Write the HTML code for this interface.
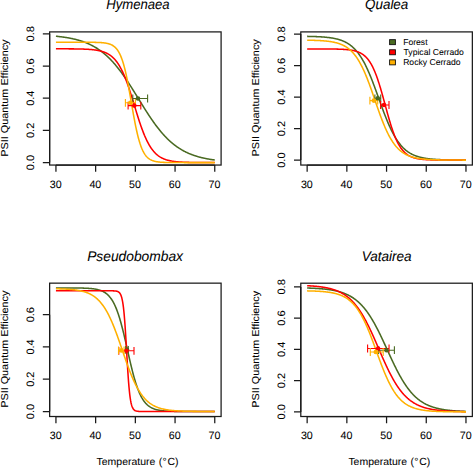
<!DOCTYPE html>
<html><head><meta charset="utf-8"><style>
html,body{margin:0;padding:0;background:#fff;}
body{width:475px;height:469px;overflow:hidden;}
svg{display:block;font-family:"Liberation Sans", sans-serif;fill:#000;}
text{font-family:"Liberation Sans", sans-serif;fill:#000;stroke:#000;stroke-width:0.06px;text-rendering:geometricPrecision;}
</style></head><body>
<svg width="475" height="469" viewBox="0 0 475 469">
<rect width="475" height="469" fill="#fff"/>
<g><polyline points="55.94,36.23 56.34,36.26 56.73,36.30 57.13,36.35 57.53,36.39 57.93,36.43 58.32,36.47 58.72,36.52 59.12,36.56 59.51,36.61 59.91,36.65 60.31,36.70 60.70,36.75 61.10,36.80 61.50,36.85 61.90,36.90 62.29,36.95 62.69,37.00 63.09,37.06 63.48,37.11 63.88,37.17 64.28,37.22 64.68,37.28 65.07,37.34 65.47,37.40 65.87,37.47 66.26,37.53 66.66,37.59 67.06,37.66 67.45,37.73 67.85,37.79 68.25,37.86 68.65,37.93 69.04,38.01 69.44,38.08 69.84,38.15 70.23,38.23 70.63,38.31 71.03,38.39 71.42,38.47 71.82,38.55 72.22,38.63 72.62,38.72 73.01,38.81 73.41,38.89 73.81,38.99 74.20,39.08 74.60,39.17 75.00,39.27 75.40,39.36 75.79,39.46 76.19,39.56 76.59,39.67 76.98,39.77 77.38,39.88 77.78,39.99 78.17,40.10 78.57,40.21 78.97,40.33 79.37,40.44 79.76,40.56 80.16,40.68 80.56,40.81 80.95,40.93 81.35,41.06 81.75,41.19 82.15,41.32 82.54,41.46 82.94,41.60 83.34,41.74 83.73,41.88 84.13,42.02 84.53,42.17 84.92,42.32 85.32,42.48 85.72,42.63 86.12,42.79 86.51,42.95 86.91,43.11 87.31,43.28 87.70,43.45 88.10,43.62 88.50,43.80 88.90,43.98 89.29,44.16 89.69,44.35 90.09,44.53 90.48,44.73 90.88,44.92 91.28,45.12 91.67,45.32 92.07,45.53 92.47,45.73 92.87,45.95 93.26,46.16 93.66,46.38 94.06,46.60 94.45,46.83 94.85,47.06 95.25,47.29 95.64,47.53 96.04,47.77 96.44,48.01 96.84,48.26 97.23,48.52 97.63,48.77 98.03,49.03 98.42,49.30 98.82,49.57 99.22,49.84 99.62,50.12 100.01,50.40 100.41,50.68 100.81,50.97 101.20,51.27 101.60,51.57 102.00,51.87 102.39,52.18 102.79,52.49 103.19,52.81 103.59,53.13 103.98,53.45 104.38,53.79 104.78,54.12 105.17,54.46 105.57,54.81 105.97,55.15 106.37,55.51 106.76,55.87 107.16,56.23 107.56,56.60 107.95,56.97 108.35,57.35 108.75,57.74 109.14,58.12 109.54,58.52 109.94,58.92 110.34,59.32 110.73,59.73 111.13,60.14 111.53,60.56 111.92,60.98 112.32,61.41 112.72,61.84 113.12,62.28 113.51,62.72 113.91,63.17 114.31,63.62 114.70,64.08 115.10,64.55 115.50,65.01 115.89,65.49 116.29,65.96 116.69,66.45 117.09,66.94 117.48,67.43 117.88,67.92 118.28,68.43 118.67,68.93 119.07,69.45 119.47,69.96 119.87,70.48 120.26,71.01 120.66,71.54 121.06,72.07 121.45,72.61 121.85,73.15 122.25,73.70 122.64,74.25 123.04,74.81 123.44,75.37 123.84,75.93 124.23,76.50 124.63,77.07 125.03,77.65 125.42,78.23 125.82,78.81 126.22,79.40 126.61,79.99 127.01,80.59 127.41,81.18 127.81,81.78 128.20,82.39 128.60,82.99 129.00,83.60 129.39,84.22 129.79,84.83 130.19,85.45 130.59,86.07 130.98,86.69 131.38,87.32 131.78,87.95 132.17,88.58 132.57,89.21 132.97,89.84 133.36,90.48 133.76,91.11 134.16,91.75 134.56,92.39 134.95,93.03 135.35,93.67 135.75,94.31 136.14,94.96 136.54,95.60 136.94,96.25 137.34,96.89 137.73,97.54 138.13,98.18 138.53,98.83 138.92,99.47 139.32,100.12 139.72,100.77 140.11,101.41 140.51,102.05 140.91,102.70 141.31,103.34 141.70,103.98 142.10,104.62 142.50,105.26 142.89,105.90 143.29,106.53 143.69,107.17 144.09,107.80 144.48,108.43 144.88,109.06 145.28,109.69 145.67,110.31 146.07,110.94 146.47,111.56 146.86,112.17 147.26,112.79 147.66,113.40 148.06,114.01 148.45,114.62 148.85,115.22 149.25,115.82 149.64,116.42 150.04,117.01 150.44,117.60 150.83,118.19 151.23,118.77 151.63,119.35 152.03,119.92 152.42,120.49 152.82,121.06 153.22,121.63 153.61,122.18 154.01,122.74 154.41,123.29 154.81,123.84 155.20,124.38 155.60,124.92 156.00,125.45 156.39,125.98 156.79,126.51 157.19,127.03 157.58,127.54 157.98,128.05 158.38,128.56 158.78,129.06 159.17,129.55 159.57,130.05 159.97,130.53 160.36,131.01 160.76,131.49 161.16,131.96 161.56,132.43 161.95,132.89 162.35,133.35 162.75,133.80 163.14,134.25 163.54,134.69 163.94,135.13 164.33,135.56 164.73,135.99 165.13,136.41 165.53,136.83 165.92,137.24 166.32,137.65 166.72,138.05 167.11,138.44 167.51,138.84 167.91,139.22 168.31,139.61 168.70,139.98 169.10,140.36 169.50,140.72 169.89,141.09 170.29,141.45 170.69,141.80 171.08,142.15 171.48,142.49 171.88,142.83 172.28,143.16 172.67,143.49 173.07,143.82 173.47,144.14 173.86,144.46 174.26,144.77 174.66,145.07 175.06,145.38 175.45,145.67 175.85,145.97 176.25,146.26 176.64,146.54 177.04,146.82 177.44,147.10 177.83,147.37 178.23,147.64 178.63,147.90 179.03,148.16 179.42,148.42 179.82,148.67 180.22,148.92 180.61,149.16 181.01,149.40 181.41,149.64 181.80,149.87 182.20,150.10 182.60,150.33 183.00,150.55 183.39,150.77 183.79,150.98 184.19,151.19 184.58,151.40 184.98,151.60 185.38,151.80 185.78,152.00 186.17,152.20 186.57,152.39 186.97,152.57 187.36,152.76 187.76,152.94 188.16,153.12 188.55,153.29 188.95,153.47 189.35,153.63 189.75,153.80 190.14,153.96 190.54,154.13 190.94,154.28 191.33,154.44 191.73,154.59 192.13,154.74 192.53,154.89 192.92,155.03 193.32,155.17 193.72,155.31 194.11,155.45 194.51,155.59 194.91,155.72 195.30,155.85 195.70,155.98 196.10,156.10 196.50,156.22 196.89,156.35 197.29,156.46 197.69,156.58 198.08,156.69 198.48,156.81 198.88,156.92 199.28,157.03 199.67,157.13 200.07,157.24 200.47,157.34 200.86,157.44 201.26,157.54 201.66,157.64 202.05,157.73 202.45,157.82 202.85,157.92 203.25,158.01 203.64,158.09 204.04,158.18 204.44,158.27 204.83,158.35 205.23,158.43 205.63,158.51 206.02,158.59 206.42,158.67 206.82,158.74 207.22,158.82 207.61,158.89 208.01,158.96 208.41,159.03 208.80,159.10 209.20,159.17 209.60,159.24 210.00,159.30 210.39,159.37 210.79,159.43 211.19,159.49 211.58,159.55 211.98,159.61 212.38,159.67 212.77,159.73 213.17,159.78 213.57,159.84 213.97,159.89 214.36,159.94 214.76,160.00" fill="none" stroke="#4a6a22" stroke-width="1.55" stroke-linejoin="round"/><polyline points="55.94,48.80 56.34,48.80 56.73,48.80 57.13,48.80 57.53,48.80 57.93,48.81 58.32,48.81 58.72,48.81 59.12,48.81 59.51,48.81 59.91,48.81 60.31,48.81 60.70,48.81 61.10,48.81 61.50,48.81 61.90,48.82 62.29,48.82 62.69,48.82 63.09,48.82 63.48,48.82 63.88,48.82 64.28,48.82 64.68,48.83 65.07,48.83 65.47,48.83 65.87,48.83 66.26,48.83 66.66,48.83 67.06,48.84 67.45,48.84 67.85,48.84 68.25,48.84 68.65,48.85 69.04,48.85 69.44,48.85 69.84,48.85 70.23,48.86 70.63,48.86 71.03,48.86 71.42,48.87 71.82,48.87 72.22,48.88 72.62,48.88 73.01,48.88 73.41,48.89 73.81,48.89 74.20,48.90 74.60,48.90 75.00,48.91 75.40,48.91 75.79,48.92 76.19,48.93 76.59,48.93 76.98,48.94 77.38,48.95 77.78,48.95 78.17,48.96 78.57,48.97 78.97,48.98 79.37,48.99 79.76,49.00 80.16,49.01 80.56,49.02 80.95,49.03 81.35,49.04 81.75,49.05 82.15,49.06 82.54,49.07 82.94,49.09 83.34,49.10 83.73,49.11 84.13,49.13 84.53,49.15 84.92,49.16 85.32,49.18 85.72,49.20 86.12,49.22 86.51,49.24 86.91,49.26 87.31,49.28 87.70,49.30 88.10,49.33 88.50,49.35 88.90,49.38 89.29,49.41 89.69,49.43 90.09,49.46 90.48,49.50 90.88,49.53 91.28,49.56 91.67,49.60 92.07,49.64 92.47,49.68 92.87,49.72 93.26,49.76 93.66,49.81 94.06,49.85 94.45,49.90 94.85,49.95 95.25,50.01 95.64,50.07 96.04,50.12 96.44,50.19 96.84,50.25 97.23,50.32 97.63,50.39 98.03,50.46 98.42,50.54 98.82,50.62 99.22,50.71 99.62,50.79 100.01,50.89 100.41,50.98 100.81,51.08 101.20,51.19 101.60,51.30 102.00,51.41 102.39,51.53 102.79,51.66 103.19,51.79 103.59,51.93 103.98,52.07 104.38,52.22 104.78,52.37 105.17,52.54 105.57,52.71 105.97,52.88 106.37,53.07 106.76,53.26 107.16,53.46 107.56,53.67 107.95,53.89 108.35,54.12 108.75,54.35 109.14,54.60 109.54,54.86 109.94,55.13 110.34,55.41 110.73,55.70 111.13,56.00 111.53,56.32 111.92,56.65 112.32,56.99 112.72,57.34 113.12,57.71 113.51,58.10 113.91,58.50 114.31,58.91 114.70,59.34 115.10,59.79 115.50,60.25 115.89,60.73 116.29,61.23 116.69,61.75 117.09,62.28 117.48,62.84 117.88,63.41 118.28,64.01 118.67,64.62 119.07,65.25 119.47,65.91 119.87,66.59 120.26,67.28 120.66,68.01 121.06,68.75 121.45,69.51 121.85,70.30 122.25,71.11 122.64,71.94 123.04,72.80 123.44,73.68 123.84,74.58 124.23,75.51 124.63,76.45 125.03,77.43 125.42,78.42 125.82,79.43 126.22,80.47 126.61,81.53 127.01,82.60 127.41,83.70 127.81,84.82 128.20,85.96 128.60,87.11 129.00,88.29 129.39,89.48 129.79,90.68 130.19,91.90 130.59,93.13 130.98,94.38 131.38,95.64 131.78,96.90 132.17,98.18 132.57,99.46 132.97,100.76 133.36,102.05 133.76,103.35 134.16,104.65 134.56,105.96 134.95,107.26 135.35,108.56 135.75,109.86 136.14,111.15 136.54,112.44 136.94,113.72 137.34,114.99 137.73,116.26 138.13,117.51 138.53,118.75 138.92,119.98 139.32,121.19 139.72,122.39 140.11,123.57 140.51,124.74 140.91,125.89 141.31,127.02 141.70,128.13 142.10,129.22 142.50,130.29 142.89,131.34 143.29,132.37 143.69,133.37 144.09,134.35 144.48,135.32 144.88,136.25 145.28,137.17 145.67,138.06 146.07,138.93 146.47,139.78 146.86,140.60 147.26,141.41 147.66,142.18 148.06,142.94 148.45,143.67 148.85,144.39 149.25,145.08 149.64,145.74 150.04,146.39 150.44,147.02 150.83,147.62 151.23,148.21 151.63,148.78 152.03,149.32 152.42,149.85 152.82,150.36 153.22,150.85 153.61,151.32 154.01,151.78 154.41,152.22 154.81,152.65 155.20,153.05 155.60,153.45 156.00,153.82 156.39,154.19 156.79,154.54 157.19,154.87 157.58,155.20 157.98,155.51 158.38,155.81 158.78,156.09 159.17,156.37 159.57,156.63 159.97,156.89 160.36,157.13 160.76,157.36 161.16,157.59 161.56,157.80 161.95,158.01 162.35,158.21 162.75,158.40 163.14,158.58 163.54,158.75 163.94,158.92 164.33,159.08 164.73,159.23 165.13,159.38 165.53,159.52 165.92,159.65 166.32,159.78 166.72,159.90 167.11,160.02 167.51,160.14 167.91,160.24 168.31,160.35 168.70,160.45 169.10,160.54 169.50,160.63 169.89,160.72 170.29,160.80 170.69,160.88 171.08,160.96 171.48,161.03 171.88,161.10 172.28,161.16 172.67,161.23 173.07,161.29 173.47,161.35 173.86,161.40 174.26,161.46 174.66,161.51 175.06,161.55 175.45,161.60 175.85,161.65 176.25,161.69 176.64,161.73 177.04,161.77 177.44,161.80 177.83,161.84 178.23,161.87 178.63,161.91 179.03,161.94 179.42,161.97 179.82,161.99 180.22,162.02 180.61,162.05 181.01,162.07 181.41,162.10 181.80,162.12 182.20,162.14 182.60,162.16 183.00,162.18 183.39,162.20 183.79,162.22 184.19,162.23 184.58,162.25 184.98,162.27 185.38,162.28 185.78,162.29 186.17,162.31 186.57,162.32 186.97,162.33 187.36,162.35 187.76,162.36 188.16,162.37 188.55,162.38 188.95,162.39 189.35,162.40 189.75,162.41 190.14,162.42 190.54,162.42 190.94,162.43 191.33,162.44 191.73,162.45 192.13,162.45 192.53,162.46 192.92,162.47 193.32,162.47 193.72,162.48 194.11,162.48 194.51,162.49 194.91,162.49 195.30,162.50 195.70,162.50 196.10,162.51 196.50,162.51 196.89,162.52 197.29,162.52 197.69,162.52 198.08,162.53 198.48,162.53 198.88,162.53 199.28,162.54 199.67,162.54 200.07,162.54 200.47,162.54 200.86,162.55 201.26,162.55 201.66,162.55 202.05,162.55 202.45,162.56 202.85,162.56 203.25,162.56 203.64,162.56 204.04,162.56 204.44,162.56 204.83,162.57 205.23,162.57 205.63,162.57 206.02,162.57 206.42,162.57 206.82,162.57 207.22,162.57 207.61,162.58 208.01,162.58 208.41,162.58 208.80,162.58 209.20,162.58 209.60,162.58 210.00,162.58 210.39,162.58 210.79,162.58 211.19,162.58 211.58,162.58 211.98,162.59 212.38,162.59 212.77,162.59 213.17,162.59 213.57,162.59 213.97,162.59 214.36,162.59 214.76,162.59" fill="none" stroke="#ff0000" stroke-width="1.55" stroke-linejoin="round"/><polyline points="55.94,42.25 56.34,42.25 56.73,42.25 57.13,42.25 57.53,42.25 57.93,42.25 58.32,42.25 58.72,42.25 59.12,42.25 59.51,42.25 59.91,42.25 60.31,42.25 60.70,42.25 61.10,42.25 61.50,42.25 61.90,42.25 62.29,42.25 62.69,42.25 63.09,42.25 63.48,42.25 63.88,42.25 64.28,42.25 64.68,42.25 65.07,42.25 65.47,42.25 65.87,42.25 66.26,42.25 66.66,42.25 67.06,42.25 67.45,42.25 67.85,42.25 68.25,42.25 68.65,42.25 69.04,42.25 69.44,42.25 69.84,42.25 70.23,42.25 70.63,42.25 71.03,42.25 71.42,42.25 71.82,42.25 72.22,42.25 72.62,42.25 73.01,42.25 73.41,42.25 73.81,42.25 74.20,42.25 74.60,42.25 75.00,42.25 75.40,42.26 75.79,42.26 76.19,42.26 76.59,42.26 76.98,42.26 77.38,42.26 77.78,42.26 78.17,42.26 78.57,42.26 78.97,42.26 79.37,42.26 79.76,42.26 80.16,42.26 80.56,42.26 80.95,42.26 81.35,42.26 81.75,42.26 82.15,42.26 82.54,42.26 82.94,42.26 83.34,42.26 83.73,42.27 84.13,42.27 84.53,42.27 84.92,42.27 85.32,42.27 85.72,42.27 86.12,42.27 86.51,42.27 86.91,42.28 87.31,42.28 87.70,42.28 88.10,42.28 88.50,42.28 88.90,42.29 89.29,42.29 89.69,42.29 90.09,42.30 90.48,42.30 90.88,42.30 91.28,42.31 91.67,42.31 92.07,42.32 92.47,42.32 92.87,42.33 93.26,42.33 93.66,42.34 94.06,42.34 94.45,42.35 94.85,42.36 95.25,42.37 95.64,42.38 96.04,42.39 96.44,42.40 96.84,42.41 97.23,42.42 97.63,42.44 98.03,42.45 98.42,42.47 98.82,42.48 99.22,42.50 99.62,42.52 100.01,42.54 100.41,42.56 100.81,42.59 101.20,42.62 101.60,42.64 102.00,42.67 102.39,42.71 102.79,42.74 103.19,42.78 103.59,42.83 103.98,42.87 104.38,42.92 104.78,42.97 105.17,43.03 105.57,43.09 105.97,43.16 106.37,43.23 106.76,43.30 107.16,43.39 107.56,43.48 107.95,43.57 108.35,43.68 108.75,43.79 109.14,43.91 109.54,44.04 109.94,44.18 110.34,44.33 110.73,44.49 111.13,44.66 111.53,44.85 111.92,45.05 112.32,45.27 112.72,45.50 113.12,45.75 113.51,46.02 113.91,46.31 114.31,46.62 114.70,46.95 115.10,47.31 115.50,47.69 115.89,48.11 116.29,48.55 116.69,49.02 117.09,49.52 117.48,50.06 117.88,50.64 118.28,51.26 118.67,51.91 119.07,52.62 119.47,53.36 119.87,54.16 120.26,55.00 120.66,55.90 121.06,56.86 121.45,57.87 121.85,58.93 122.25,60.06 122.64,61.25 123.04,62.51 123.44,63.83 123.84,65.22 124.23,66.67 124.63,68.19 125.03,69.78 125.42,71.44 125.82,73.16 126.22,74.95 126.61,76.80 127.01,78.71 127.41,80.69 127.81,82.71 128.20,84.79 128.60,86.92 129.00,89.08 129.39,91.29 129.79,93.52 130.19,95.78 130.59,98.06 130.98,100.36 131.38,102.66 131.78,104.95 132.17,107.25 132.57,109.52 132.97,111.78 133.36,114.01 133.76,116.21 134.16,118.37 134.56,120.48 134.95,122.55 135.35,124.57 135.75,126.53 136.14,128.43 136.54,130.27 136.94,132.04 137.34,133.75 137.73,135.39 138.13,136.97 138.53,138.48 138.92,139.92 139.32,141.29 139.72,142.60 140.11,143.84 140.51,145.02 140.91,146.14 141.31,147.19 141.70,148.19 142.10,149.13 142.50,150.02 142.89,150.86 143.29,151.64 143.69,152.38 144.09,153.07 144.48,153.72 144.88,154.33 145.28,154.90 145.67,155.43 146.07,155.93 146.47,156.40 146.86,156.83 147.26,157.24 147.66,157.62 148.06,157.97 148.45,158.30 148.85,158.60 149.25,158.89 149.64,159.15 150.04,159.40 150.44,159.63 150.83,159.84 151.23,160.04 151.63,160.23 152.03,160.40 152.42,160.56 152.82,160.71 153.22,160.84 153.61,160.97 154.01,161.09 154.41,161.20 154.81,161.30 155.20,161.40 155.60,161.48 156.00,161.56 156.39,161.64 156.79,161.71 157.19,161.78 157.58,161.84 157.98,161.89 158.38,161.94 158.78,161.99 159.17,162.04 159.57,162.08 159.97,162.12 160.36,162.15 160.76,162.18 161.16,162.21 161.56,162.24 161.95,162.27 162.35,162.29 162.75,162.32 163.14,162.34 163.54,162.36 163.94,162.37 164.33,162.39 164.73,162.41 165.13,162.42 165.53,162.43 165.92,162.45 166.32,162.46 166.72,162.47 167.11,162.48 167.51,162.49 167.91,162.49 168.31,162.50 168.70,162.51 169.10,162.52 169.50,162.52 169.89,162.53 170.29,162.53 170.69,162.54 171.08,162.54 171.48,162.55 171.88,162.55 172.28,162.55 172.67,162.56 173.07,162.56 173.47,162.56 173.86,162.57 174.26,162.57 174.66,162.57 175.06,162.57 175.45,162.58 175.85,162.58 176.25,162.58 176.64,162.58 177.04,162.58 177.44,162.58 177.83,162.58 178.23,162.59 178.63,162.59 179.03,162.59 179.42,162.59 179.82,162.59 180.22,162.59 180.61,162.59 181.01,162.59 181.41,162.59 181.80,162.59 182.20,162.59 182.60,162.59 183.00,162.59 183.39,162.59 183.79,162.60 184.19,162.60 184.58,162.60 184.98,162.60 185.38,162.60 185.78,162.60 186.17,162.60 186.57,162.60 186.97,162.60 187.36,162.60 187.76,162.60 188.16,162.60 188.55,162.60 188.95,162.60 189.35,162.60 189.75,162.60 190.14,162.60 190.54,162.60 190.94,162.60 191.33,162.60 191.73,162.60 192.13,162.60 192.53,162.60 192.92,162.60 193.32,162.60 193.72,162.60 194.11,162.60 194.51,162.60 194.91,162.60 195.30,162.60 195.70,162.60 196.10,162.60 196.50,162.60 196.89,162.60 197.29,162.60 197.69,162.60 198.08,162.60 198.48,162.60 198.88,162.60 199.28,162.60 199.67,162.60 200.07,162.60 200.47,162.60 200.86,162.60 201.26,162.60 201.66,162.60 202.05,162.60 202.45,162.60 202.85,162.60 203.25,162.60 203.64,162.60 204.04,162.60 204.44,162.60 204.83,162.60 205.23,162.60 205.63,162.60 206.02,162.60 206.42,162.60 206.82,162.60 207.22,162.60 207.61,162.60 208.01,162.60 208.41,162.60 208.80,162.60 209.20,162.60 209.60,162.60 210.00,162.60 210.39,162.60 210.79,162.60 211.19,162.60 211.58,162.60 211.98,162.60 212.38,162.60 212.77,162.60 213.17,162.60 213.57,162.60 213.97,162.60 214.36,162.60 214.76,162.60" fill="none" stroke="#ffb000" stroke-width="1.55" stroke-linejoin="round"/><path d="M132.80,98.50H147.60M132.80,94.60V102.40M147.60,94.60V102.40" stroke="#4a6a22" stroke-width="1.1" fill="none"/><path d="M128.10,105.60H140.80M128.10,101.70V109.50M140.80,101.70V109.50" stroke="#ff0000" stroke-width="1.1" fill="none"/><path d="M125.40,102.80H135.40M125.40,98.90V106.70M135.40,98.90V106.70" stroke="#ffb000" stroke-width="1.1" fill="none"/><circle cx="138.00" cy="98.50" r="2.3" fill="#4a6a22"/><circle cx="134.30" cy="105.60" r="2.3" fill="#ff0000"/><circle cx="130.40" cy="102.80" r="2.3" fill="#ffb000"/><rect x="49.63" y="31.9" width="171.47" height="133.15" fill="none" stroke="#1a1a1a" stroke-width="1.25"/><path d="M55.94,165.05H214.76M55.94,165.05V171.70M95.64,165.05V171.70M135.35,165.05V171.70M175.06,165.05V171.70M214.76,165.05V171.70M49.63,162.60V33.80M49.63,162.60H42.83M49.63,130.40H42.83M49.63,98.20H42.83M49.63,66.00H42.83M49.63,33.80H42.83" stroke="#1a1a1a" stroke-width="1.25" fill="none"/><text x="55.64" y="187.95" text-anchor="middle" font-size="10.7">30</text><text x="95.34" y="187.95" text-anchor="middle" font-size="10.7">40</text><text x="135.05" y="187.95" text-anchor="middle" font-size="10.7">50</text><text x="174.75" y="187.95" text-anchor="middle" font-size="10.7">60</text><text x="214.46" y="187.95" text-anchor="middle" font-size="10.7">70</text><text transform="translate(33.53,162.60) rotate(-90) scale(1.03,1)" text-anchor="middle" font-size="10.7">0.0</text><text transform="translate(33.53,130.40) rotate(-90) scale(1.03,1)" text-anchor="middle" font-size="10.7">0.2</text><text transform="translate(33.53,98.20) rotate(-90) scale(1.03,1)" text-anchor="middle" font-size="10.7">0.4</text><text transform="translate(33.53,66.00) rotate(-90) scale(1.03,1)" text-anchor="middle" font-size="10.7">0.6</text><text transform="translate(33.53,33.80) rotate(-90) scale(1.03,1)" text-anchor="middle" font-size="10.7">0.8</text><text transform="translate(7.85,156.64) rotate(-90) scale(1.0828,1)" font-size="10.0">PSII Quantum Efficiency</text><text transform="translate(106.21,9.35) scale(0.9364,1)" font-size="14" font-style="italic">Hymenaea</text></g>
<g><polyline points="307.15,36.38 307.55,36.38 307.94,36.39 308.34,36.40 308.74,36.41 309.14,36.41 309.53,36.42 309.93,36.43 310.33,36.44 310.72,36.45 311.12,36.46 311.52,36.47 311.91,36.48 312.31,36.49 312.71,36.50 313.11,36.52 313.50,36.53 313.90,36.54 314.30,36.55 314.69,36.57 315.09,36.58 315.49,36.60 315.89,36.61 316.28,36.63 316.68,36.64 317.08,36.66 317.47,36.68 317.87,36.70 318.27,36.72 318.66,36.74 319.06,36.76 319.46,36.78 319.86,36.80 320.25,36.82 320.65,36.84 321.05,36.87 321.44,36.89 321.84,36.92 322.24,36.95 322.63,36.97 323.03,37.00 323.43,37.03 323.83,37.06 324.22,37.10 324.62,37.13 325.02,37.16 325.41,37.20 325.81,37.24 326.21,37.28 326.61,37.31 327.00,37.36 327.40,37.40 327.80,37.44 328.19,37.49 328.59,37.53 328.99,37.58 329.38,37.63 329.78,37.69 330.18,37.74 330.58,37.80 330.97,37.86 331.37,37.92 331.77,37.98 332.16,38.04 332.56,38.11 332.96,38.18 333.36,38.25 333.75,38.32 334.15,38.40 334.55,38.48 334.94,38.56 335.34,38.65 335.74,38.73 336.13,38.83 336.53,38.92 336.93,39.02 337.33,39.12 337.72,39.22 338.12,39.33 338.52,39.44 338.91,39.56 339.31,39.68 339.71,39.80 340.11,39.93 340.50,40.06 340.90,40.20 341.30,40.34 341.69,40.48 342.09,40.64 342.49,40.79 342.88,40.95 343.28,41.12 343.68,41.29 344.08,41.47 344.47,41.65 344.87,41.84 345.27,42.04 345.66,42.24 346.06,42.45 346.46,42.67 346.85,42.89 347.25,43.12 347.65,43.36 348.05,43.61 348.44,43.86 348.84,44.12 349.24,44.39 349.63,44.67 350.03,44.95 350.43,45.25 350.83,45.56 351.22,45.87 351.62,46.19 352.02,46.53 352.41,46.87 352.81,47.22 353.21,47.59 353.60,47.96 354.00,48.35 354.40,48.75 354.80,49.16 355.19,49.58 355.59,50.01 355.99,50.46 356.38,50.91 356.78,51.38 357.18,51.87 357.58,52.36 357.97,52.87 358.37,53.39 358.77,53.93 359.16,54.48 359.56,55.04 359.96,55.62 360.35,56.21 360.75,56.82 361.15,57.44 361.55,58.08 361.94,58.73 362.34,59.40 362.74,60.08 363.13,60.77 363.53,61.49 363.93,62.21 364.33,62.96 364.72,63.71 365.12,64.48 365.52,65.27 365.91,66.07 366.31,66.89 366.71,67.72 367.10,68.57 367.50,69.43 367.90,70.31 368.30,71.20 368.69,72.10 369.09,73.02 369.49,73.95 369.88,74.89 370.28,75.85 370.68,76.82 371.08,77.80 371.47,78.79 371.87,79.80 372.27,80.81 372.66,81.84 373.06,82.87 373.46,83.91 373.85,84.97 374.25,86.03 374.65,87.09 375.05,88.17 375.44,89.25 375.84,90.34 376.24,91.43 376.63,92.52 377.03,93.62 377.43,94.72 377.82,95.83 378.22,96.93 378.62,98.04 379.02,99.14 379.41,100.25 379.81,101.35 380.21,102.45 380.60,103.55 381.00,104.65 381.40,105.74 381.80,106.83 382.19,107.91 382.59,108.99 382.99,110.06 383.38,111.12 383.78,112.17 384.18,113.22 384.57,114.25 384.97,115.28 385.37,116.30 385.77,117.30 386.16,118.30 386.56,119.28 386.96,120.25 387.35,121.21 387.75,122.16 388.15,123.09 388.55,124.01 388.94,124.92 389.34,125.81 389.74,126.69 390.13,127.55 390.53,128.40 390.93,129.24 391.32,130.06 391.72,130.86 392.12,131.65 392.52,132.43 392.91,133.19 393.31,133.94 393.71,134.66 394.10,135.38 394.50,136.08 394.90,136.76 395.30,137.43 395.69,138.09 396.09,138.73 396.49,139.35 396.88,139.96 397.28,140.56 397.68,141.14 398.07,141.70 398.47,142.26 398.87,142.80 399.27,143.32 399.66,143.83 400.06,144.33 400.46,144.82 400.85,145.29 401.25,145.75 401.65,146.20 402.04,146.63 402.44,147.05 402.84,147.47 403.24,147.87 403.63,148.25 404.03,148.63 404.43,149.00 404.82,149.35 405.22,149.70 405.62,150.04 406.02,150.36 406.41,150.68 406.81,150.98 407.21,151.28 407.60,151.57 408.00,151.85 408.40,152.12 408.79,152.38 409.19,152.64 409.59,152.89 409.99,153.13 410.38,153.36 410.78,153.58 411.18,153.80 411.57,154.01 411.97,154.22 412.37,154.41 412.77,154.60 413.16,154.79 413.56,154.97 413.96,155.14 414.35,155.31 414.75,155.47 415.15,155.63 415.54,155.78 415.94,155.93 416.34,156.07 416.74,156.21 417.13,156.34 417.53,156.47 417.93,156.59 418.32,156.71 418.72,156.83 419.12,156.94 419.52,157.05 419.91,157.16 420.31,157.26 420.71,157.36 421.10,157.45 421.50,157.54 421.90,157.63 422.29,157.72 422.69,157.80 423.09,157.88 423.49,157.96 423.88,158.03 424.28,158.10 424.68,158.17 425.07,158.24 425.47,158.31 425.87,158.37 426.26,158.43 426.66,158.49 427.06,158.54 427.46,158.60 427.85,158.65 428.25,158.70 428.65,158.75 429.04,158.80 429.44,158.84 429.84,158.89 430.24,158.93 430.63,158.97 431.03,159.01 431.43,159.05 431.82,159.09 432.22,159.12 432.62,159.16 433.01,159.19 433.41,159.22 433.81,159.26 434.21,159.29 434.60,159.31 435.00,159.34 435.40,159.37 435.79,159.40 436.19,159.42 436.59,159.45 436.99,159.47 437.38,159.49 437.78,159.51 438.18,159.54 438.57,159.56 438.97,159.58 439.37,159.59 439.76,159.61 440.16,159.63 440.56,159.65 440.96,159.66 441.35,159.68 441.75,159.70 442.15,159.71 442.54,159.72 442.94,159.74 443.34,159.75 443.74,159.76 444.13,159.78 444.53,159.79 444.93,159.80 445.32,159.81 445.72,159.82 446.12,159.83 446.51,159.84 446.91,159.85 447.31,159.86 447.71,159.87 448.10,159.88 448.50,159.89 448.90,159.90 449.29,159.90 449.69,159.91 450.09,159.92 450.49,159.93 450.88,159.93 451.28,159.94 451.68,159.95 452.07,159.95 452.47,159.96 452.87,159.96 453.26,159.97 453.66,159.97 454.06,159.98 454.46,159.98 454.85,159.99 455.25,159.99 455.65,160.00 456.04,160.00 456.44,160.01 456.84,160.01 457.23,160.01 457.63,160.02 458.03,160.02 458.43,160.02 458.82,160.03 459.22,160.03 459.62,160.03 460.01,160.04 460.41,160.04 460.81,160.04 461.21,160.05 461.60,160.05 462.00,160.05 462.40,160.05 462.79,160.06 463.19,160.06 463.59,160.06 463.98,160.06 464.38,160.06 464.78,160.07 465.18,160.07 465.57,160.07 465.97,160.07" fill="none" stroke="#4a6a22" stroke-width="1.55" stroke-linejoin="round"/><polyline points="307.15,48.92 307.55,48.93 307.94,48.93 308.34,48.93 308.74,48.93 309.14,48.93 309.53,48.93 309.93,48.93 310.33,48.93 310.72,48.93 311.12,48.93 311.52,48.93 311.91,48.93 312.31,48.93 312.71,48.93 313.11,48.93 313.50,48.93 313.90,48.93 314.30,48.93 314.69,48.93 315.09,48.93 315.49,48.93 315.89,48.93 316.28,48.93 316.68,48.93 317.08,48.93 317.47,48.94 317.87,48.94 318.27,48.94 318.66,48.94 319.06,48.94 319.46,48.94 319.86,48.94 320.25,48.94 320.65,48.94 321.05,48.94 321.44,48.95 321.84,48.95 322.24,48.95 322.63,48.95 323.03,48.95 323.43,48.95 323.83,48.95 324.22,48.96 324.62,48.96 325.02,48.96 325.41,48.96 325.81,48.96 326.21,48.97 326.61,48.97 327.00,48.97 327.40,48.97 327.80,48.98 328.19,48.98 328.59,48.98 328.99,48.99 329.38,48.99 329.78,48.99 330.18,49.00 330.58,49.00 330.97,49.01 331.37,49.01 331.77,49.02 332.16,49.02 332.56,49.03 332.96,49.03 333.36,49.04 333.75,49.04 334.15,49.05 334.55,49.06 334.94,49.07 335.34,49.07 335.74,49.08 336.13,49.09 336.53,49.10 336.93,49.11 337.33,49.12 337.72,49.13 338.12,49.14 338.52,49.15 338.91,49.16 339.31,49.18 339.71,49.19 340.11,49.21 340.50,49.22 340.90,49.24 341.30,49.26 341.69,49.27 342.09,49.29 342.49,49.31 342.88,49.33 343.28,49.36 343.68,49.38 344.08,49.40 344.47,49.43 344.87,49.46 345.27,49.49 345.66,49.52 346.06,49.55 346.46,49.58 346.85,49.62 347.25,49.65 347.65,49.69 348.05,49.74 348.44,49.78 348.84,49.82 349.24,49.87 349.63,49.92 350.03,49.98 350.43,50.03 350.83,50.09 351.22,50.16 351.62,50.22 352.02,50.29 352.41,50.37 352.81,50.44 353.21,50.52 353.60,50.61 354.00,50.70 354.40,50.79 354.80,50.89 355.19,51.00 355.59,51.11 355.99,51.22 356.38,51.35 356.78,51.47 357.18,51.61 357.58,51.75 357.97,51.90 358.37,52.06 358.77,52.22 359.16,52.39 359.56,52.58 359.96,52.77 360.35,52.97 360.75,53.18 361.15,53.40 361.55,53.63 361.94,53.87 362.34,54.13 362.74,54.40 363.13,54.68 363.53,54.97 363.93,55.28 364.33,55.60 364.72,55.94 365.12,56.30 365.52,56.67 365.91,57.06 366.31,57.46 366.71,57.89 367.10,58.33 367.50,58.79 367.90,59.28 368.30,59.78 368.69,60.31 369.09,60.86 369.49,61.44 369.88,62.03 370.28,62.65 370.68,63.30 371.08,63.97 371.47,64.67 371.87,65.40 372.27,66.15 372.66,66.93 373.06,67.74 373.46,68.58 373.85,69.45 374.25,70.34 374.65,71.27 375.05,72.22 375.44,73.21 375.84,74.22 376.24,75.27 376.63,76.34 377.03,77.45 377.43,78.58 377.82,79.74 378.22,80.92 378.62,82.14 379.02,83.38 379.41,84.64 379.81,85.93 380.21,87.24 380.60,88.58 381.00,89.93 381.40,91.30 381.80,92.70 382.19,94.10 382.59,95.52 382.99,96.95 383.38,98.39 383.78,99.85 384.18,101.30 384.57,102.76 384.97,104.23 385.37,105.69 385.77,107.15 386.16,108.61 386.56,110.07 386.96,111.51 387.35,112.95 387.75,114.37 388.15,115.79 388.55,117.18 388.94,118.56 389.34,119.92 389.74,121.27 390.13,122.59 390.53,123.89 390.93,125.16 391.32,126.41 391.72,127.63 392.12,128.83 392.52,130.00 392.91,131.15 393.31,132.26 393.71,133.35 394.10,134.40 394.50,135.43 394.90,136.43 395.30,137.39 395.69,138.33 396.09,139.24 396.49,140.12 396.88,140.97 397.28,141.79 397.68,142.58 398.07,143.35 398.47,144.08 398.87,144.79 399.27,145.47 399.66,146.13 400.06,146.76 400.46,147.37 400.85,147.95 401.25,148.51 401.65,149.05 402.04,149.56 402.44,150.06 402.84,150.53 403.24,150.98 403.63,151.41 404.03,151.82 404.43,152.22 404.82,152.60 405.22,152.96 405.62,153.30 406.02,153.63 406.41,153.95 406.81,154.25 407.21,154.53 407.60,154.81 408.00,155.07 408.40,155.32 408.79,155.55 409.19,155.78 409.59,155.99 409.99,156.20 410.38,156.39 410.78,156.58 411.18,156.75 411.57,156.92 411.97,157.08 412.37,157.23 412.77,157.38 413.16,157.51 413.56,157.64 413.96,157.77 414.35,157.89 414.75,158.00 415.15,158.11 415.54,158.21 415.94,158.30 416.34,158.40 416.74,158.48 417.13,158.57 417.53,158.64 417.93,158.72 418.32,158.79 418.72,158.86 419.12,158.92 419.52,158.98 419.91,159.04 420.31,159.10 420.71,159.15 421.10,159.20 421.50,159.24 421.90,159.29 422.29,159.33 422.69,159.37 423.09,159.41 423.49,159.45 423.88,159.48 424.28,159.51 424.68,159.54 425.07,159.57 425.47,159.60 425.87,159.63 426.26,159.65 426.66,159.68 427.06,159.70 427.46,159.72 427.85,159.74 428.25,159.76 428.65,159.78 429.04,159.80 429.44,159.81 429.84,159.83 430.24,159.84 430.63,159.86 431.03,159.87 431.43,159.88 431.82,159.90 432.22,159.91 432.62,159.92 433.01,159.93 433.41,159.94 433.81,159.95 434.21,159.96 434.60,159.97 435.00,159.97 435.40,159.98 435.79,159.99 436.19,159.99 436.59,160.00 436.99,160.01 437.38,160.01 437.78,160.02 438.18,160.02 438.57,160.03 438.97,160.03 439.37,160.04 439.76,160.04 440.16,160.05 440.56,160.05 440.96,160.05 441.35,160.06 441.75,160.06 442.15,160.06 442.54,160.07 442.94,160.07 443.34,160.07 443.74,160.07 444.13,160.08 444.53,160.08 444.93,160.08 445.32,160.08 445.72,160.08 446.12,160.09 446.51,160.09 446.91,160.09 447.31,160.09 447.71,160.09 448.10,160.09 448.50,160.10 448.90,160.10 449.29,160.10 449.69,160.10 450.09,160.10 450.49,160.10 450.88,160.10 451.28,160.10 451.68,160.10 452.07,160.10 452.47,160.11 452.87,160.11 453.26,160.11 453.66,160.11 454.06,160.11 454.46,160.11 454.85,160.11 455.25,160.11 455.65,160.11 456.04,160.11 456.44,160.11 456.84,160.11 457.23,160.11 457.63,160.11 458.03,160.11 458.43,160.11 458.82,160.11 459.22,160.11 459.62,160.11 460.01,160.11 460.41,160.11 460.81,160.12 461.21,160.12 461.60,160.12 462.00,160.12 462.40,160.12 462.79,160.12 463.19,160.12 463.59,160.12 463.98,160.12 464.38,160.12 464.78,160.12 465.18,160.12 465.57,160.12 465.97,160.12" fill="none" stroke="#ff0000" stroke-width="1.55" stroke-linejoin="round"/><polyline points="307.15,40.19 307.55,40.19 307.94,40.20 308.34,40.21 308.74,40.22 309.14,40.22 309.53,40.23 309.93,40.24 310.33,40.25 310.72,40.26 311.12,40.27 311.52,40.28 311.91,40.29 312.31,40.30 312.71,40.31 313.11,40.32 313.50,40.33 313.90,40.34 314.30,40.36 314.69,40.37 315.09,40.38 315.49,40.40 315.89,40.41 316.28,40.43 316.68,40.44 317.08,40.46 317.47,40.48 317.87,40.49 318.27,40.51 318.66,40.53 319.06,40.55 319.46,40.57 319.86,40.59 320.25,40.62 320.65,40.64 321.05,40.66 321.44,40.69 321.84,40.72 322.24,40.74 322.63,40.77 323.03,40.80 323.43,40.83 323.83,40.86 324.22,40.90 324.62,40.93 325.02,40.96 325.41,41.00 325.81,41.04 326.21,41.08 326.61,41.12 327.00,41.16 327.40,41.21 327.80,41.25 328.19,41.30 328.59,41.35 328.99,41.40 329.38,41.46 329.78,41.51 330.18,41.57 330.58,41.63 330.97,41.69 331.37,41.76 331.77,41.82 332.16,41.89 332.56,41.97 332.96,42.04 333.36,42.12 333.75,42.20 334.15,42.28 334.55,42.37 334.94,42.46 335.34,42.56 335.74,42.65 336.13,42.75 336.53,42.86 336.93,42.97 337.33,43.08 337.72,43.20 338.12,43.32 338.52,43.44 338.91,43.57 339.31,43.71 339.71,43.85 340.11,43.99 340.50,44.15 340.90,44.30 341.30,44.46 341.69,44.63 342.09,44.80 342.49,44.98 342.88,45.17 343.28,45.36 343.68,45.56 344.08,45.77 344.47,45.98 344.87,46.21 345.27,46.44 345.66,46.67 346.06,46.92 346.46,47.18 346.85,47.44 347.25,47.71 347.65,47.99 348.05,48.28 348.44,48.58 348.84,48.90 349.24,49.22 349.63,49.55 350.03,49.89 350.43,50.25 350.83,50.61 351.22,50.99 351.62,51.38 352.02,51.78 352.41,52.20 352.81,52.62 353.21,53.07 353.60,53.52 354.00,53.99 354.40,54.47 354.80,54.97 355.19,55.48 355.59,56.00 355.99,56.54 356.38,57.10 356.78,57.67 357.18,58.26 357.58,58.86 357.97,59.48 358.37,60.12 358.77,60.77 359.16,61.44 359.56,62.12 359.96,62.83 360.35,63.55 360.75,64.28 361.15,65.04 361.55,65.81 361.94,66.59 362.34,67.40 362.74,68.22 363.13,69.06 363.53,69.92 363.93,70.79 364.33,71.68 364.72,72.58 365.12,73.50 365.52,74.44 365.91,75.39 366.31,76.36 366.71,77.34 367.10,78.34 367.50,79.35 367.90,80.38 368.30,81.41 368.69,82.46 369.09,83.52 369.49,84.60 369.88,85.68 370.28,86.78 370.68,87.88 371.08,88.99 371.47,90.11 371.87,91.24 372.27,92.37 372.66,93.51 373.06,94.65 373.46,95.80 373.85,96.95 374.25,98.11 374.65,99.26 375.05,100.42 375.44,101.57 375.84,102.73 376.24,103.88 376.63,105.03 377.03,106.17 377.43,107.31 377.82,108.45 378.22,109.58 378.62,110.70 379.02,111.82 379.41,112.92 379.81,114.02 380.21,115.11 380.60,116.19 381.00,117.25 381.40,118.31 381.80,119.35 382.19,120.38 382.59,121.40 382.99,122.40 383.38,123.39 383.78,124.36 384.18,125.32 384.57,126.26 384.97,127.19 385.37,128.10 385.77,129.00 386.16,129.88 386.56,130.74 386.96,131.59 387.35,132.41 387.75,133.23 388.15,134.02 388.55,134.80 388.94,135.56 389.34,136.30 389.74,137.03 390.13,137.74 390.53,138.43 390.93,139.10 391.32,139.76 391.72,140.41 392.12,141.03 392.52,141.64 392.91,142.24 393.31,142.81 393.71,143.38 394.10,143.92 394.50,144.45 394.90,144.97 395.30,145.47 395.69,145.96 396.09,146.43 396.49,146.89 396.88,147.34 397.28,147.77 397.68,148.19 398.07,148.60 398.47,148.99 398.87,149.38 399.27,149.75 399.66,150.11 400.06,150.45 400.46,150.79 400.85,151.12 401.25,151.43 401.65,151.74 402.04,152.03 402.44,152.32 402.84,152.59 403.24,152.86 403.63,153.12 404.03,153.37 404.43,153.61 404.82,153.84 405.22,154.07 405.62,154.28 406.02,154.49 406.41,154.70 406.81,154.89 407.21,155.08 407.60,155.26 408.00,155.44 408.40,155.61 408.79,155.77 409.19,155.93 409.59,156.09 409.99,156.23 410.38,156.38 410.78,156.51 411.18,156.64 411.57,156.77 411.97,156.90 412.37,157.01 412.77,157.13 413.16,157.24 413.56,157.34 413.96,157.45 414.35,157.55 414.75,157.64 415.15,157.73 415.54,157.82 415.94,157.91 416.34,157.99 416.74,158.07 417.13,158.14 417.53,158.22 417.93,158.29 418.32,158.36 418.72,158.42 419.12,158.48 419.52,158.55 419.91,158.60 420.31,158.66 420.71,158.72 421.10,158.77 421.50,158.82 421.90,158.87 422.29,158.91 422.69,158.96 423.09,159.00 423.49,159.04 423.88,159.08 424.28,159.12 424.68,159.16 425.07,159.20 425.47,159.23 425.87,159.26 426.26,159.30 426.66,159.33 427.06,159.36 427.46,159.39 427.85,159.41 428.25,159.44 428.65,159.47 429.04,159.49 429.44,159.51 429.84,159.54 430.24,159.56 430.63,159.58 431.03,159.60 431.43,159.62 431.82,159.64 432.22,159.66 432.62,159.67 433.01,159.69 433.41,159.71 433.81,159.72 434.21,159.74 434.60,159.75 435.00,159.77 435.40,159.78 435.79,159.79 436.19,159.80 436.59,159.82 436.99,159.83 437.38,159.84 437.78,159.85 438.18,159.86 438.57,159.87 438.97,159.88 439.37,159.89 439.76,159.90 440.16,159.90 440.56,159.91 440.96,159.92 441.35,159.93 441.75,159.94 442.15,159.94 442.54,159.95 442.94,159.96 443.34,159.96 443.74,159.97 444.13,159.97 444.53,159.98 444.93,159.98 445.32,159.99 445.72,159.99 446.12,160.00 446.51,160.00 446.91,160.01 447.31,160.01 447.71,160.02 448.10,160.02 448.50,160.02 448.90,160.03 449.29,160.03 449.69,160.03 450.09,160.04 450.49,160.04 450.88,160.04 451.28,160.05 451.68,160.05 452.07,160.05 452.47,160.05 452.87,160.06 453.26,160.06 453.66,160.06 454.06,160.06 454.46,160.07 454.85,160.07 455.25,160.07 455.65,160.07 456.04,160.07 456.44,160.08 456.84,160.08 457.23,160.08 457.63,160.08 458.03,160.08 458.43,160.08 458.82,160.08 459.22,160.09 459.62,160.09 460.01,160.09 460.41,160.09 460.81,160.09 461.21,160.09 461.60,160.09 462.00,160.09 462.40,160.10 462.79,160.10 463.19,160.10 463.59,160.10 463.98,160.10 464.38,160.10 464.78,160.10 465.18,160.10 465.57,160.10 465.97,160.10" fill="none" stroke="#ffb000" stroke-width="1.55" stroke-linejoin="round"/><path d="M374.90,98.30H380.70M374.90,94.40V102.20M380.70,94.40V102.20" stroke="#4a6a22" stroke-width="1.1" fill="none"/><path d="M380.60,105.00H389.00M380.60,101.10V108.90M389.00,101.10V108.90" stroke="#ff0000" stroke-width="1.1" fill="none"/><path d="M369.90,100.60H377.70M369.90,96.70V104.50M377.70,96.70V104.50" stroke="#ffb000" stroke-width="1.1" fill="none"/><circle cx="377.80" cy="98.30" r="2.3" fill="#4a6a22"/><circle cx="384.00" cy="105.00" r="2.3" fill="#ff0000"/><circle cx="373.80" cy="100.60" r="2.3" fill="#ffb000"/><rect x="300.8" y="31.9" width="171.55" height="133.15" fill="none" stroke="#1a1a1a" stroke-width="1.25"/><path d="M307.15,165.05H465.97M307.15,165.05V171.70M346.85,165.05V171.70M386.56,165.05V171.70M426.26,165.05V171.70M465.97,165.05V171.70M300.8,160.12V34.08M300.8,160.12H294.00M300.8,128.61H294.00M300.8,97.10H294.00M300.8,65.59H294.00M300.8,34.08H294.00" stroke="#1a1a1a" stroke-width="1.25" fill="none"/><text x="306.85" y="187.95" text-anchor="middle" font-size="10.7">30</text><text x="346.55" y="187.95" text-anchor="middle" font-size="10.7">40</text><text x="386.26" y="187.95" text-anchor="middle" font-size="10.7">50</text><text x="425.96" y="187.95" text-anchor="middle" font-size="10.7">60</text><text x="465.67" y="187.95" text-anchor="middle" font-size="10.7">70</text><text transform="translate(284.70,160.12) rotate(-90) scale(1.03,1)" text-anchor="middle" font-size="10.7">0.0</text><text transform="translate(284.70,128.61) rotate(-90) scale(1.03,1)" text-anchor="middle" font-size="10.7">0.2</text><text transform="translate(284.70,97.10) rotate(-90) scale(1.03,1)" text-anchor="middle" font-size="10.7">0.4</text><text transform="translate(284.70,65.59) rotate(-90) scale(1.03,1)" text-anchor="middle" font-size="10.7">0.6</text><text transform="translate(284.70,34.08) rotate(-90) scale(1.03,1)" text-anchor="middle" font-size="10.7">0.8</text><text transform="translate(259.05,156.44) rotate(-90) scale(1.0828,1)" font-size="10.0">PSII Quantum Efficiency</text><text transform="translate(365.08,9.30) scale(0.9567,1)" font-size="14" font-style="italic">Qualea</text></g>
<g><polyline points="55.94,287.91 56.34,287.91 56.73,287.91 57.13,287.91 57.53,287.91 57.93,287.91 58.32,287.91 58.72,287.91 59.12,287.91 59.51,287.91 59.91,287.91 60.31,287.91 60.70,287.91 61.10,287.91 61.50,287.92 61.90,287.92 62.29,287.92 62.69,287.92 63.09,287.92 63.48,287.92 63.88,287.92 64.28,287.92 64.68,287.92 65.07,287.92 65.47,287.92 65.87,287.92 66.26,287.92 66.66,287.93 67.06,287.93 67.45,287.93 67.85,287.93 68.25,287.93 68.65,287.93 69.04,287.93 69.44,287.94 69.84,287.94 70.23,287.94 70.63,287.94 71.03,287.94 71.42,287.94 71.82,287.95 72.22,287.95 72.62,287.95 73.01,287.95 73.41,287.96 73.81,287.96 74.20,287.96 74.60,287.97 75.00,287.97 75.40,287.97 75.79,287.98 76.19,287.98 76.59,287.99 76.98,287.99 77.38,288.00 77.78,288.00 78.17,288.01 78.57,288.01 78.97,288.02 79.37,288.03 79.76,288.03 80.16,288.04 80.56,288.05 80.95,288.06 81.35,288.07 81.75,288.08 82.15,288.09 82.54,288.10 82.94,288.11 83.34,288.12 83.73,288.13 84.13,288.15 84.53,288.16 84.92,288.18 85.32,288.19 85.72,288.21 86.12,288.23 86.51,288.25 86.91,288.27 87.31,288.29 87.70,288.31 88.10,288.33 88.50,288.36 88.90,288.39 89.29,288.41 89.69,288.44 90.09,288.47 90.48,288.51 90.88,288.54 91.28,288.58 91.67,288.62 92.07,288.66 92.47,288.71 92.87,288.75 93.26,288.80 93.66,288.85 94.06,288.91 94.45,288.97 94.85,289.03 95.25,289.10 95.64,289.17 96.04,289.24 96.44,289.32 96.84,289.40 97.23,289.49 97.63,289.58 98.03,289.67 98.42,289.78 98.82,289.88 99.22,290.00 99.62,290.12 100.01,290.25 100.41,290.38 100.81,290.53 101.20,290.68 101.60,290.84 102.00,291.00 102.39,291.18 102.79,291.37 103.19,291.57 103.59,291.78 103.98,292.00 104.38,292.23 104.78,292.47 105.17,292.73 105.57,293.00 105.97,293.29 106.37,293.59 106.76,293.91 107.16,294.25 107.56,294.60 107.95,294.97 108.35,295.36 108.75,295.77 109.14,296.21 109.54,296.66 109.94,297.14 110.34,297.64 110.73,298.16 111.13,298.71 111.53,299.29 111.92,299.90 112.32,300.53 112.72,301.19 113.12,301.89 113.51,302.61 113.91,303.37 114.31,304.16 114.70,304.99 115.10,305.84 115.50,306.74 115.89,307.67 116.29,308.64 116.69,309.65 117.09,310.69 117.48,311.77 117.88,312.89 118.28,314.05 118.67,315.25 119.07,316.49 119.47,317.76 119.87,319.08 120.26,320.43 120.66,321.82 121.06,323.25 121.45,324.71 121.85,326.20 122.25,327.73 122.64,329.29 123.04,330.88 123.44,332.50 123.84,334.14 124.23,335.81 124.63,337.49 125.03,339.20 125.42,340.93 125.82,342.66 126.22,344.41 126.61,346.17 127.01,347.94 127.41,349.70 127.81,351.47 128.20,353.23 128.60,354.99 129.00,356.74 129.39,358.48 129.79,360.20 130.19,361.91 130.59,363.60 130.98,365.27 131.38,366.91 131.78,368.53 132.17,370.12 132.57,371.68 132.97,373.20 133.36,374.70 133.76,376.16 134.16,377.59 134.56,378.97 134.95,380.33 135.35,381.64 135.75,382.92 136.14,384.15 136.54,385.35 136.94,386.51 137.34,387.63 137.73,388.72 138.13,389.76 138.53,390.77 138.92,391.73 139.32,392.67 139.72,393.56 140.11,394.42 140.51,395.25 140.91,396.04 141.31,396.79 141.70,397.52 142.10,398.21 142.50,398.88 142.89,399.51 143.29,400.11 143.69,400.69 144.09,401.24 144.48,401.77 144.88,402.27 145.28,402.75 145.67,403.20 146.07,403.63 146.47,404.04 146.86,404.43 147.26,404.81 147.66,405.16 148.06,405.49 148.45,405.81 148.85,406.11 149.25,406.40 149.64,406.67 150.04,406.93 150.44,407.18 150.83,407.41 151.23,407.63 151.63,407.84 152.03,408.04 152.42,408.22 152.82,408.40 153.22,408.57 153.61,408.73 154.01,408.88 154.41,409.02 154.81,409.16 155.20,409.29 155.60,409.41 156.00,409.52 156.39,409.63 156.79,409.73 157.19,409.83 157.58,409.92 157.98,410.01 158.38,410.09 158.78,410.17 159.17,410.24 159.57,410.31 159.97,410.38 160.36,410.44 160.76,410.50 161.16,410.55 161.56,410.60 161.95,410.65 162.35,410.70 162.75,410.74 163.14,410.79 163.54,410.83 163.94,410.86 164.33,410.90 164.73,410.93 165.13,410.96 165.53,410.99 165.92,411.02 166.32,411.05 166.72,411.07 167.11,411.10 167.51,411.12 167.91,411.14 168.31,411.16 168.70,411.18 169.10,411.20 169.50,411.21 169.89,411.23 170.29,411.24 170.69,411.26 171.08,411.27 171.48,411.28 171.88,411.30 172.28,411.31 172.67,411.32 173.07,411.33 173.47,411.34 173.86,411.35 174.26,411.36 174.66,411.36 175.06,411.37 175.45,411.38 175.85,411.38 176.25,411.39 176.64,411.40 177.04,411.40 177.44,411.41 177.83,411.41 178.23,411.42 178.63,411.42 179.03,411.43 179.42,411.43 179.82,411.44 180.22,411.44 180.61,411.44 181.01,411.45 181.41,411.45 181.80,411.45 182.20,411.45 182.60,411.46 183.00,411.46 183.39,411.46 183.79,411.46 184.19,411.47 184.58,411.47 184.98,411.47 185.38,411.47 185.78,411.47 186.17,411.47 186.57,411.48 186.97,411.48 187.36,411.48 187.76,411.48 188.16,411.48 188.55,411.48 188.95,411.48 189.35,411.48 189.75,411.48 190.14,411.49 190.54,411.49 190.94,411.49 191.33,411.49 191.73,411.49 192.13,411.49 192.53,411.49 192.92,411.49 193.32,411.49 193.72,411.49 194.11,411.49 194.51,411.49 194.91,411.49 195.30,411.49 195.70,411.49 196.10,411.49 196.50,411.49 196.89,411.49 197.29,411.49 197.69,411.50 198.08,411.50 198.48,411.50 198.88,411.50 199.28,411.50 199.67,411.50 200.07,411.50 200.47,411.50 200.86,411.50 201.26,411.50 201.66,411.50 202.05,411.50 202.45,411.50 202.85,411.50 203.25,411.50 203.64,411.50 204.04,411.50 204.44,411.50 204.83,411.50 205.23,411.50 205.63,411.50 206.02,411.50 206.42,411.50 206.82,411.50 207.22,411.50 207.61,411.50 208.01,411.50 208.41,411.50 208.80,411.50 209.20,411.50 209.60,411.50 210.00,411.50 210.39,411.50 210.79,411.50 211.19,411.50 211.58,411.50 211.98,411.50 212.38,411.50 212.77,411.50 213.17,411.50 213.57,411.50 213.97,411.50 214.36,411.50 214.76,411.50" fill="none" stroke="#4a6a22" stroke-width="1.55" stroke-linejoin="round"/><polyline points="55.94,290.81 56.34,290.81 56.73,290.81 57.13,290.81 57.53,290.81 57.93,290.81 58.32,290.81 58.72,290.81 59.12,290.81 59.51,290.81 59.91,290.81 60.31,290.81 60.70,290.81 61.10,290.81 61.50,290.81 61.90,290.81 62.29,290.81 62.69,290.81 63.09,290.81 63.48,290.81 63.88,290.81 64.28,290.81 64.68,290.81 65.07,290.81 65.47,290.81 65.87,290.81 66.26,290.81 66.66,290.81 67.06,290.81 67.45,290.81 67.85,290.81 68.25,290.81 68.65,290.81 69.04,290.81 69.44,290.81 69.84,290.81 70.23,290.81 70.63,290.81 71.03,290.81 71.42,290.81 71.82,290.81 72.22,290.81 72.62,290.81 73.01,290.81 73.41,290.81 73.81,290.81 74.20,290.81 74.60,290.81 75.00,290.81 75.40,290.81 75.79,290.81 76.19,290.81 76.59,290.81 76.98,290.81 77.38,290.81 77.78,290.81 78.17,290.81 78.57,290.81 78.97,290.81 79.37,290.81 79.76,290.81 80.16,290.81 80.56,290.81 80.95,290.81 81.35,290.81 81.75,290.81 82.15,290.81 82.54,290.81 82.94,290.81 83.34,290.81 83.73,290.81 84.13,290.81 84.53,290.81 84.92,290.81 85.32,290.81 85.72,290.81 86.12,290.81 86.51,290.81 86.91,290.81 87.31,290.81 87.70,290.81 88.10,290.81 88.50,290.81 88.90,290.81 89.29,290.81 89.69,290.81 90.09,290.81 90.48,290.81 90.88,290.81 91.28,290.81 91.67,290.81 92.07,290.81 92.47,290.81 92.87,290.81 93.26,290.81 93.66,290.81 94.06,290.81 94.45,290.81 94.85,290.81 95.25,290.81 95.64,290.81 96.04,290.81 96.44,290.81 96.84,290.81 97.23,290.81 97.63,290.81 98.03,290.81 98.42,290.81 98.82,290.81 99.22,290.81 99.62,290.81 100.01,290.81 100.41,290.81 100.81,290.81 101.20,290.81 101.60,290.81 102.00,290.81 102.39,290.81 102.79,290.81 103.19,290.81 103.59,290.81 103.98,290.81 104.38,290.81 104.78,290.81 105.17,290.81 105.57,290.81 105.97,290.81 106.37,290.81 106.76,290.81 107.16,290.81 107.56,290.81 107.95,290.81 108.35,290.81 108.75,290.81 109.14,290.82 109.54,290.82 109.94,290.82 110.34,290.82 110.73,290.82 111.13,290.83 111.53,290.83 111.92,290.84 112.32,290.84 112.72,290.85 113.12,290.86 113.51,290.87 113.91,290.89 114.31,290.91 114.70,290.94 115.10,290.97 115.50,291.01 115.89,291.06 116.29,291.12 116.69,291.20 117.09,291.30 117.48,291.43 117.88,291.59 118.28,291.79 118.67,292.04 119.07,292.35 119.47,292.74 119.87,293.22 120.26,293.83 120.66,294.58 121.06,295.51 121.45,296.66 121.85,298.08 122.25,299.81 122.64,301.91 123.04,304.44 123.44,307.47 123.84,311.03 124.23,315.19 124.63,319.95 125.03,325.30 125.42,331.21 125.82,337.57 126.22,344.28 126.61,351.16 127.01,358.03 127.41,364.74 127.81,371.11 128.20,377.01 128.60,382.37 129.00,387.12 129.39,391.28 129.79,394.84 130.19,397.87 130.59,400.40 130.98,402.50 131.38,404.23 131.78,405.65 132.17,406.80 132.57,407.73 132.97,408.48 133.36,409.09 133.76,409.57 134.16,409.96 134.56,410.27 134.95,410.52 135.35,410.72 135.75,410.88 136.14,411.01 136.54,411.11 136.94,411.19 137.34,411.25 137.73,411.30 138.13,411.34 138.53,411.37 138.92,411.40 139.32,411.42 139.72,411.44 140.11,411.45 140.51,411.46 140.91,411.47 141.31,411.47 141.70,411.48 142.10,411.48 142.50,411.49 142.89,411.49 143.29,411.49 143.69,411.49 144.09,411.49 144.48,411.50 144.88,411.50 145.28,411.50 145.67,411.50 146.07,411.50 146.47,411.50 146.86,411.50 147.26,411.50 147.66,411.50 148.06,411.50 148.45,411.50 148.85,411.50 149.25,411.50 149.64,411.50 150.04,411.50 150.44,411.50 150.83,411.50 151.23,411.50 151.63,411.50 152.03,411.50 152.42,411.50 152.82,411.50 153.22,411.50 153.61,411.50 154.01,411.50 154.41,411.50 154.81,411.50 155.20,411.50 155.60,411.50 156.00,411.50 156.39,411.50 156.79,411.50 157.19,411.50 157.58,411.50 157.98,411.50 158.38,411.50 158.78,411.50 159.17,411.50 159.57,411.50 159.97,411.50 160.36,411.50 160.76,411.50 161.16,411.50 161.56,411.50 161.95,411.50 162.35,411.50 162.75,411.50 163.14,411.50 163.54,411.50 163.94,411.50 164.33,411.50 164.73,411.50 165.13,411.50 165.53,411.50 165.92,411.50 166.32,411.50 166.72,411.50 167.11,411.50 167.51,411.50 167.91,411.50 168.31,411.50 168.70,411.50 169.10,411.50 169.50,411.50 169.89,411.50 170.29,411.50 170.69,411.50 171.08,411.50 171.48,411.50 171.88,411.50 172.28,411.50 172.67,411.50 173.07,411.50 173.47,411.50 173.86,411.50 174.26,411.50 174.66,411.50 175.06,411.50 175.45,411.50 175.85,411.50 176.25,411.50 176.64,411.50 177.04,411.50 177.44,411.50 177.83,411.50 178.23,411.50 178.63,411.50 179.03,411.50 179.42,411.50 179.82,411.50 180.22,411.50 180.61,411.50 181.01,411.50 181.41,411.50 181.80,411.50 182.20,411.50 182.60,411.50 183.00,411.50 183.39,411.50 183.79,411.50 184.19,411.50 184.58,411.50 184.98,411.50 185.38,411.50 185.78,411.50 186.17,411.50 186.57,411.50 186.97,411.50 187.36,411.50 187.76,411.50 188.16,411.50 188.55,411.50 188.95,411.50 189.35,411.50 189.75,411.50 190.14,411.50 190.54,411.50 190.94,411.50 191.33,411.50 191.73,411.50 192.13,411.50 192.53,411.50 192.92,411.50 193.32,411.50 193.72,411.50 194.11,411.50 194.51,411.50 194.91,411.50 195.30,411.50 195.70,411.50 196.10,411.50 196.50,411.50 196.89,411.50 197.29,411.50 197.69,411.50 198.08,411.50 198.48,411.50 198.88,411.50 199.28,411.50 199.67,411.50 200.07,411.50 200.47,411.50 200.86,411.50 201.26,411.50 201.66,411.50 202.05,411.50 202.45,411.50 202.85,411.50 203.25,411.50 203.64,411.50 204.04,411.50 204.44,411.50 204.83,411.50 205.23,411.50 205.63,411.50 206.02,411.50 206.42,411.50 206.82,411.50 207.22,411.50 207.61,411.50 208.01,411.50 208.41,411.50 208.80,411.50 209.20,411.50 209.60,411.50 210.00,411.50 210.39,411.50 210.79,411.50 211.19,411.50 211.58,411.50 211.98,411.50 212.38,411.50 212.77,411.50 213.17,411.50 213.57,411.50 213.97,411.50 214.36,411.50 214.76,411.50" fill="none" stroke="#ff0000" stroke-width="1.55" stroke-linejoin="round"/><polyline points="55.94,288.77 56.34,288.78 56.73,288.79 57.13,288.80 57.53,288.81 57.93,288.82 58.32,288.83 58.72,288.84 59.12,288.85 59.51,288.86 59.91,288.88 60.31,288.89 60.70,288.90 61.10,288.91 61.50,288.93 61.90,288.94 62.29,288.96 62.69,288.97 63.09,288.99 63.48,289.01 63.88,289.02 64.28,289.04 64.68,289.06 65.07,289.08 65.47,289.10 65.87,289.12 66.26,289.14 66.66,289.17 67.06,289.19 67.45,289.21 67.85,289.24 68.25,289.27 68.65,289.29 69.04,289.32 69.44,289.35 69.84,289.38 70.23,289.41 70.63,289.45 71.03,289.48 71.42,289.52 71.82,289.55 72.22,289.59 72.62,289.63 73.01,289.67 73.41,289.72 73.81,289.76 74.20,289.81 74.60,289.85 75.00,289.90 75.40,289.96 75.79,290.01 76.19,290.07 76.59,290.12 76.98,290.18 77.38,290.24 77.78,290.31 78.17,290.38 78.57,290.44 78.97,290.52 79.37,290.59 79.76,290.67 80.16,290.75 80.56,290.83 80.95,290.92 81.35,291.01 81.75,291.10 82.15,291.20 82.54,291.29 82.94,291.40 83.34,291.50 83.73,291.62 84.13,291.73 84.53,291.85 84.92,291.97 85.32,292.10 85.72,292.23 86.12,292.37 86.51,292.51 86.91,292.66 87.31,292.81 87.70,292.97 88.10,293.14 88.50,293.31 88.90,293.48 89.29,293.66 89.69,293.85 90.09,294.05 90.48,294.25 90.88,294.46 91.28,294.68 91.67,294.90 92.07,295.13 92.47,295.37 92.87,295.62 93.26,295.87 93.66,296.14 94.06,296.41 94.45,296.69 94.85,296.99 95.25,297.29 95.64,297.60 96.04,297.92 96.44,298.26 96.84,298.60 97.23,298.95 97.63,299.32 98.03,299.70 98.42,300.08 98.82,300.49 99.22,300.90 99.62,301.33 100.01,301.77 100.41,302.22 100.81,302.68 101.20,303.16 101.60,303.66 102.00,304.17 102.39,304.69 102.79,305.22 103.19,305.78 103.59,306.34 103.98,306.93 104.38,307.53 104.78,308.14 105.17,308.77 105.57,309.42 105.97,310.08 106.37,310.76 106.76,311.46 107.16,312.17 107.56,312.90 107.95,313.65 108.35,314.41 108.75,315.19 109.14,315.99 109.54,316.80 109.94,317.63 110.34,318.48 110.73,319.34 111.13,320.22 111.53,321.12 111.92,322.03 112.32,322.96 112.72,323.91 113.12,324.87 113.51,325.84 113.91,326.83 114.31,327.84 114.70,328.85 115.10,329.88 115.50,330.93 115.89,331.98 116.29,333.05 116.69,334.13 117.09,335.22 117.48,336.32 117.88,337.43 118.28,338.54 118.67,339.67 119.07,340.80 119.47,341.94 119.87,343.08 120.26,344.23 120.66,345.39 121.06,346.54 121.45,347.70 121.85,348.86 122.25,350.03 122.64,351.19 123.04,352.35 123.44,353.51 123.84,354.66 124.23,355.82 124.63,356.97 125.03,358.11 125.42,359.25 125.82,360.38 126.22,361.51 126.61,362.63 127.01,363.73 127.41,364.83 127.81,365.92 128.20,367.00 128.60,368.07 129.00,369.12 129.39,370.17 129.79,371.20 130.19,372.22 130.59,373.22 130.98,374.21 131.38,375.18 131.78,376.14 132.17,377.09 132.57,378.02 132.97,378.93 133.36,379.83 133.76,380.71 134.16,381.57 134.56,382.42 134.95,383.25 135.35,384.06 135.75,384.86 136.14,385.64 136.54,386.40 136.94,387.15 137.34,387.88 137.73,388.59 138.13,389.29 138.53,389.97 138.92,390.63 139.32,391.28 139.72,391.91 140.11,392.52 140.51,393.12 140.91,393.71 141.31,394.27 141.70,394.83 142.10,395.36 142.50,395.89 142.89,396.39 143.29,396.89 143.69,397.37 144.09,397.83 144.48,398.29 144.88,398.73 145.28,399.15 145.67,399.57 146.07,399.97 146.47,400.36 146.86,400.73 147.26,401.10 147.66,401.45 148.06,401.80 148.45,402.13 148.85,402.45 149.25,402.76 149.64,403.06 150.04,403.36 150.44,403.64 150.83,403.91 151.23,404.18 151.63,404.43 152.03,404.68 152.42,404.92 152.82,405.15 153.22,405.38 153.61,405.59 154.01,405.80 154.41,406.00 154.81,406.20 155.20,406.39 155.60,406.57 156.00,406.74 156.39,406.91 156.79,407.08 157.19,407.24 157.58,407.39 157.98,407.54 158.38,407.68 158.78,407.82 159.17,407.95 159.57,408.08 159.97,408.20 160.36,408.32 160.76,408.44 161.16,408.55 161.56,408.65 161.95,408.76 162.35,408.86 162.75,408.95 163.14,409.04 163.54,409.13 163.94,409.22 164.33,409.30 164.73,409.38 165.13,409.46 165.53,409.54 165.92,409.61 166.32,409.68 166.72,409.74 167.11,409.81 167.51,409.87 167.91,409.93 168.31,409.99 168.70,410.04 169.10,410.10 169.50,410.15 169.89,410.20 170.29,410.24 170.69,410.29 171.08,410.33 171.48,410.38 171.88,410.42 172.28,410.46 172.67,410.50 173.07,410.53 173.47,410.57 173.86,410.60 174.26,410.64 174.66,410.67 175.06,410.70 175.45,410.73 175.85,410.76 176.25,410.78 176.64,410.81 177.04,410.84 177.44,410.86 177.83,410.88 178.23,410.91 178.63,410.93 179.03,410.95 179.42,410.97 179.82,410.99 180.22,411.01 180.61,411.03 181.01,411.04 181.41,411.06 181.80,411.08 182.20,411.09 182.60,411.11 183.00,411.12 183.39,411.14 183.79,411.15 184.19,411.16 184.58,411.18 184.98,411.19 185.38,411.20 185.78,411.21 186.17,411.22 186.57,411.23 186.97,411.24 187.36,411.25 187.76,411.26 188.16,411.27 188.55,411.28 188.95,411.29 189.35,411.29 189.75,411.30 190.14,411.31 190.54,411.32 190.94,411.32 191.33,411.33 191.73,411.34 192.13,411.34 192.53,411.35 192.92,411.35 193.32,411.36 193.72,411.36 194.11,411.37 194.51,411.37 194.91,411.38 195.30,411.38 195.70,411.39 196.10,411.39 196.50,411.40 196.89,411.40 197.29,411.40 197.69,411.41 198.08,411.41 198.48,411.41 198.88,411.42 199.28,411.42 199.67,411.42 200.07,411.43 200.47,411.43 200.86,411.43 201.26,411.43 201.66,411.44 202.05,411.44 202.45,411.44 202.85,411.44 203.25,411.44 203.64,411.45 204.04,411.45 204.44,411.45 204.83,411.45 205.23,411.45 205.63,411.46 206.02,411.46 206.42,411.46 206.82,411.46 207.22,411.46 207.61,411.46 208.01,411.47 208.41,411.47 208.80,411.47 209.20,411.47 209.60,411.47 210.00,411.47 210.39,411.47 210.79,411.47 211.19,411.47 211.58,411.48 211.98,411.48 212.38,411.48 212.77,411.48 213.17,411.48 213.57,411.48 213.97,411.48 214.36,411.48 214.76,411.48" fill="none" stroke="#ffb000" stroke-width="1.55" stroke-linejoin="round"/><path d="M125.70,349.80H128.30M125.70,345.90V353.70M128.30,345.90V353.70" stroke="#4a6a22" stroke-width="1.1" fill="none"/><path d="M118.80,350.80H134.00M118.80,346.90V354.70M134.00,346.90V354.70" stroke="#ff0000" stroke-width="1.1" fill="none"/><path d="M118.50,350.40H124.10M118.50,346.50V354.30M124.10,346.50V354.30" stroke="#ffb000" stroke-width="1.1" fill="none"/><circle cx="127.00" cy="349.80" r="2.3" fill="#4a6a22"/><circle cx="126.50" cy="350.80" r="2.3" fill="#ff0000"/><circle cx="121.30" cy="350.40" r="2.3" fill="#ffb000"/><rect x="49.63" y="283.15" width="171.47" height="133.35" fill="none" stroke="#1a1a1a" stroke-width="1.25"/><path d="M55.94,416.5H214.76M55.94,416.5V423.15M95.64,416.5V423.15M135.35,416.5V423.15M175.06,416.5V423.15M214.76,416.5V423.15M49.63,411.50V314.69M49.63,411.50H42.83M49.63,379.23H42.83M49.63,346.96H42.83M49.63,314.69H42.83" stroke="#1a1a1a" stroke-width="1.25" fill="none"/><text x="55.64" y="439.40" text-anchor="middle" font-size="10.7">30</text><text x="95.34" y="439.40" text-anchor="middle" font-size="10.7">40</text><text x="135.05" y="439.40" text-anchor="middle" font-size="10.7">50</text><text x="174.75" y="439.40" text-anchor="middle" font-size="10.7">60</text><text x="214.46" y="439.40" text-anchor="middle" font-size="10.7">70</text><text transform="translate(33.53,411.50) rotate(-90) scale(1.03,1)" text-anchor="middle" font-size="10.7">0.0</text><text transform="translate(33.53,379.23) rotate(-90) scale(1.03,1)" text-anchor="middle" font-size="10.7">0.2</text><text transform="translate(33.53,346.96) rotate(-90) scale(1.03,1)" text-anchor="middle" font-size="10.7">0.4</text><text transform="translate(33.53,314.69) rotate(-90) scale(1.03,1)" text-anchor="middle" font-size="10.7">0.6</text><text transform="translate(8.00,407.79) rotate(-90) scale(1.0828,1)" font-size="10.0">PSII Quantum Efficiency</text><text transform="translate(87.13,260.80) scale(0.9854,1)" font-size="14" font-style="italic">Pseudobombax</text><text transform="translate(96.54,464.80) scale(1.0165,1)" font-size="10.3">Temperature <tspan dx="0.5">(</tspan><tspan dx="0.4">°</tspan><tspan dx="0.7">C)</tspan></text></g>
<g><polyline points="307.15,288.03 307.55,288.04 307.94,288.06 308.34,288.07 308.74,288.08 309.14,288.10 309.53,288.11 309.93,288.13 310.33,288.14 310.72,288.16 311.12,288.17 311.52,288.19 311.91,288.21 312.31,288.22 312.71,288.24 313.11,288.26 313.50,288.28 313.90,288.30 314.30,288.32 314.69,288.34 315.09,288.36 315.49,288.38 315.89,288.40 316.28,288.43 316.68,288.45 317.08,288.47 317.47,288.50 317.87,288.53 318.27,288.55 318.66,288.58 319.06,288.61 319.46,288.64 319.86,288.66 320.25,288.69 320.65,288.73 321.05,288.76 321.44,288.79 321.84,288.82 322.24,288.86 322.63,288.89 323.03,288.93 323.43,288.97 323.83,289.01 324.22,289.05 324.62,289.09 325.02,289.13 325.41,289.17 325.81,289.22 326.21,289.26 326.61,289.31 327.00,289.36 327.40,289.41 327.80,289.46 328.19,289.51 328.59,289.56 328.99,289.62 329.38,289.68 329.78,289.73 330.18,289.79 330.58,289.86 330.97,289.92 331.37,289.98 331.77,290.05 332.16,290.12 332.56,290.19 332.96,290.26 333.36,290.33 333.75,290.41 334.15,290.49 334.55,290.57 334.94,290.65 335.34,290.74 335.74,290.82 336.13,290.91 336.53,291.00 336.93,291.10 337.33,291.19 337.72,291.29 338.12,291.39 338.52,291.50 338.91,291.61 339.31,291.72 339.71,291.83 340.11,291.94 340.50,292.06 340.90,292.19 341.30,292.31 341.69,292.44 342.09,292.57 342.49,292.71 342.88,292.85 343.28,292.99 343.68,293.13 344.08,293.28 344.47,293.44 344.87,293.60 345.27,293.76 345.66,293.92 346.06,294.09 346.46,294.27 346.85,294.45 347.25,294.63 347.65,294.82 348.05,295.01 348.44,295.21 348.84,295.41 349.24,295.62 349.63,295.83 350.03,296.05 350.43,296.27 350.83,296.50 351.22,296.73 351.62,296.97 352.02,297.22 352.41,297.47 352.81,297.72 353.21,297.99 353.60,298.26 354.00,298.53 354.40,298.81 354.80,299.10 355.19,299.40 355.59,299.70 355.99,300.01 356.38,300.32 356.78,300.65 357.18,300.98 357.58,301.32 357.97,301.66 358.37,302.01 358.77,302.37 359.16,302.74 359.56,303.12 359.96,303.50 360.35,303.89 360.75,304.29 361.15,304.70 361.55,305.11 361.94,305.54 362.34,305.97 362.74,306.41 363.13,306.87 363.53,307.32 363.93,307.79 364.33,308.27 364.72,308.76 365.12,309.25 365.52,309.75 365.91,310.27 366.31,310.79 366.71,311.32 367.10,311.86 367.50,312.41 367.90,312.97 368.30,313.54 368.69,314.12 369.09,314.71 369.49,315.30 369.88,315.91 370.28,316.53 370.68,317.15 371.08,317.79 371.47,318.43 371.87,319.08 372.27,319.74 372.66,320.41 373.06,321.09 373.46,321.78 373.85,322.48 374.25,323.18 374.65,323.89 375.05,324.62 375.44,325.35 375.84,326.09 376.24,326.83 376.63,327.59 377.03,328.35 377.43,329.12 377.82,329.89 378.22,330.67 378.62,331.46 379.02,332.26 379.41,333.06 379.81,333.87 380.21,334.69 380.60,335.51 381.00,336.33 381.40,337.16 381.80,337.99 382.19,338.83 382.59,339.68 382.99,340.52 383.38,341.38 383.78,342.23 384.18,343.09 384.57,343.94 384.97,344.81 385.37,345.67 385.77,346.53 386.16,347.40 386.56,348.27 386.96,349.14 387.35,350.00 387.75,350.87 388.15,351.74 388.55,352.61 388.94,353.47 389.34,354.34 389.74,355.20 390.13,356.06 390.53,356.92 390.93,357.77 391.32,358.62 391.72,359.47 392.12,360.32 392.52,361.16 392.91,361.99 393.31,362.83 393.71,363.65 394.10,364.47 394.50,365.29 394.90,366.10 395.30,366.91 395.69,367.71 396.09,368.50 396.49,369.28 396.88,370.06 397.28,370.83 397.68,371.60 398.07,372.36 398.47,373.10 398.87,373.85 399.27,374.58 399.66,375.30 400.06,376.02 400.46,376.73 400.85,377.43 401.25,378.12 401.65,378.80 402.04,379.48 402.44,380.14 402.84,380.80 403.24,381.45 403.63,382.08 404.03,382.71 404.43,383.33 404.82,383.94 405.22,384.54 405.62,385.13 406.02,385.72 406.41,386.29 406.81,386.85 407.21,387.41 407.60,387.95 408.00,388.49 408.40,389.01 408.79,389.53 409.19,390.04 409.59,390.53 409.99,391.02 410.38,391.51 410.78,391.98 411.18,392.44 411.57,392.89 411.97,393.34 412.37,393.78 412.77,394.20 413.16,394.62 413.56,395.03 413.96,395.44 414.35,395.83 414.75,396.22 415.15,396.60 415.54,396.97 415.94,397.33 416.34,397.69 416.74,398.04 417.13,398.38 417.53,398.71 417.93,399.03 418.32,399.35 418.72,399.66 419.12,399.97 419.52,400.27 419.91,400.56 420.31,400.84 420.71,401.12 421.10,401.39 421.50,401.66 421.90,401.92 422.29,402.17 422.69,402.42 423.09,402.66 423.49,402.90 423.88,403.13 424.28,403.35 424.68,403.57 425.07,403.79 425.47,404.00 425.87,404.20 426.26,404.40 426.66,404.59 427.06,404.78 427.46,404.97 427.85,405.15 428.25,405.32 428.65,405.50 429.04,405.66 429.44,405.83 429.84,405.99 430.24,406.14 430.63,406.29 431.03,406.44 431.43,406.59 431.82,406.73 432.22,406.86 432.62,407.00 433.01,407.13 433.41,407.25 433.81,407.38 434.21,407.50 434.60,407.61 435.00,407.73 435.40,407.84 435.79,407.95 436.19,408.05 436.59,408.15 436.99,408.25 437.38,408.35 437.78,408.45 438.18,408.54 438.57,408.63 438.97,408.72 439.37,408.80 439.76,408.89 440.16,408.97 440.56,409.05 440.96,409.12 441.35,409.20 441.75,409.27 442.15,409.34 442.54,409.41 442.94,409.48 443.34,409.54 443.74,409.61 444.13,409.67 444.53,409.73 444.93,409.79 445.32,409.85 445.72,409.90 446.12,409.96 446.51,410.01 446.91,410.06 447.31,410.11 447.71,410.16 448.10,410.21 448.50,410.25 448.90,410.30 449.29,410.34 449.69,410.38 450.09,410.42 450.49,410.46 450.88,410.50 451.28,410.54 451.68,410.58 452.07,410.61 452.47,410.65 452.87,410.68 453.26,410.72 453.66,410.75 454.06,410.78 454.46,410.81 454.85,410.84 455.25,410.87 455.65,410.90 456.04,410.93 456.44,410.95 456.84,410.98 457.23,411.00 457.63,411.03 458.03,411.05 458.43,411.07 458.82,411.10 459.22,411.12 459.62,411.14 460.01,411.16 460.41,411.18 460.81,411.20 461.21,411.22 461.60,411.24 462.00,411.26 462.40,411.27 462.79,411.29 463.19,411.31 463.59,411.32 463.98,411.34 464.38,411.36 464.78,411.37 465.18,411.39 465.57,411.40 465.97,411.41" fill="none" stroke="#4a6a22" stroke-width="1.55" stroke-linejoin="round"/><polyline points="307.15,285.71 307.55,285.73 307.94,285.75 308.34,285.77 308.74,285.79 309.14,285.81 309.53,285.84 309.93,285.86 310.33,285.88 310.72,285.91 311.12,285.94 311.52,285.96 311.91,285.99 312.31,286.02 312.71,286.05 313.11,286.08 313.50,286.11 313.90,286.14 314.30,286.17 314.69,286.20 315.09,286.24 315.49,286.27 315.89,286.31 316.28,286.35 316.68,286.39 317.08,286.43 317.47,286.47 317.87,286.51 318.27,286.55 318.66,286.60 319.06,286.64 319.46,286.69 319.86,286.74 320.25,286.79 320.65,286.84 321.05,286.89 321.44,286.94 321.84,287.00 322.24,287.06 322.63,287.12 323.03,287.18 323.43,287.24 323.83,287.30 324.22,287.37 324.62,287.44 325.02,287.51 325.41,287.58 325.81,287.65 326.21,287.73 326.61,287.80 327.00,287.88 327.40,287.97 327.80,288.05 328.19,288.14 328.59,288.23 328.99,288.32 329.38,288.41 329.78,288.51 330.18,288.61 330.58,288.71 330.97,288.82 331.37,288.93 331.77,289.04 332.16,289.15 332.56,289.27 332.96,289.39 333.36,289.51 333.75,289.64 334.15,289.77 334.55,289.90 334.94,290.04 335.34,290.18 335.74,290.33 336.13,290.48 336.53,290.63 336.93,290.79 337.33,290.95 337.72,291.12 338.12,291.29 338.52,291.46 338.91,291.64 339.31,291.83 339.71,292.02 340.11,292.21 340.50,292.41 340.90,292.61 341.30,292.82 341.69,293.04 342.09,293.26 342.49,293.48 342.88,293.72 343.28,293.95 343.68,294.20 344.08,294.45 344.47,294.70 344.87,294.97 345.27,295.23 345.66,295.51 346.06,295.79 346.46,296.08 346.85,296.38 347.25,296.68 347.65,296.99 348.05,297.31 348.44,297.64 348.84,297.97 349.24,298.31 349.63,298.66 350.03,299.02 350.43,299.38 350.83,299.75 351.22,300.14 351.62,300.53 352.02,300.92 352.41,301.33 352.81,301.75 353.21,302.17 353.60,302.61 354.00,303.05 354.40,303.51 354.80,303.97 355.19,304.44 355.59,304.92 355.99,305.41 356.38,305.92 356.78,306.43 357.18,306.95 357.58,307.48 357.97,308.02 358.37,308.57 358.77,309.13 359.16,309.70 359.56,310.28 359.96,310.88 360.35,311.48 360.75,312.09 361.15,312.71 361.55,313.35 361.94,313.99 362.34,314.64 362.74,315.31 363.13,315.98 363.53,316.66 363.93,317.36 364.33,318.06 364.72,318.77 365.12,319.50 365.52,320.23 365.91,320.97 366.31,321.72 366.71,322.49 367.10,323.26 367.50,324.03 367.90,324.82 368.30,325.62 368.69,326.42 369.09,327.24 369.49,328.06 369.88,328.89 370.28,329.72 370.68,330.56 371.08,331.41 371.47,332.27 371.87,333.13 372.27,334.00 372.66,334.88 373.06,335.76 373.46,336.64 373.85,337.53 374.25,338.43 374.65,339.33 375.05,340.23 375.44,341.14 375.84,342.05 376.24,342.96 376.63,343.87 377.03,344.79 377.43,345.70 377.82,346.62 378.22,347.54 378.62,348.46 379.02,349.38 379.41,350.30 379.81,351.22 380.21,352.14 380.60,353.05 381.00,353.97 381.40,354.88 381.80,355.79 382.19,356.69 382.59,357.60 382.99,358.50 383.38,359.39 383.78,360.28 384.18,361.17 384.57,362.05 384.97,362.92 385.37,363.79 385.77,364.65 386.16,365.51 386.56,366.36 386.96,367.20 387.35,368.04 387.75,368.87 388.15,369.69 388.55,370.50 388.94,371.31 389.34,372.10 389.74,372.89 390.13,373.67 390.53,374.44 390.93,375.20 391.32,375.95 391.72,376.69 392.12,377.43 392.52,378.15 392.91,378.86 393.31,379.57 393.71,380.26 394.10,380.95 394.50,381.62 394.90,382.28 395.30,382.94 395.69,383.58 396.09,384.21 396.49,384.83 396.88,385.45 397.28,386.05 397.68,386.64 398.07,387.22 398.47,387.79 398.87,388.35 399.27,388.91 399.66,389.45 400.06,389.98 400.46,390.50 400.85,391.01 401.25,391.51 401.65,392.00 402.04,392.48 402.44,392.96 402.84,393.42 403.24,393.87 403.63,394.32 404.03,394.75 404.43,395.18 404.82,395.59 405.22,396.00 405.62,396.40 406.02,396.79 406.41,397.17 406.81,397.54 407.21,397.91 407.60,398.27 408.00,398.62 408.40,398.96 408.79,399.29 409.19,399.62 409.59,399.93 409.99,400.24 410.38,400.55 410.78,400.84 411.18,401.13 411.57,401.41 411.97,401.69 412.37,401.96 412.77,402.22 413.16,402.48 413.56,402.73 413.96,402.97 414.35,403.21 414.75,403.44 415.15,403.67 415.54,403.89 415.94,404.10 416.34,404.31 416.74,404.52 417.13,404.72 417.53,404.91 417.93,405.10 418.32,405.28 418.72,405.46 419.12,405.64 419.52,405.81 419.91,405.97 420.31,406.14 420.71,406.29 421.10,406.45 421.50,406.60 421.90,406.74 422.29,406.88 422.69,407.02 423.09,407.16 423.49,407.29 423.88,407.41 424.28,407.54 424.68,407.66 425.07,407.77 425.47,407.89 425.87,408.00 426.26,408.11 426.66,408.21 427.06,408.32 427.46,408.42 427.85,408.51 428.25,408.61 428.65,408.70 429.04,408.79 429.44,408.87 429.84,408.96 430.24,409.04 430.63,409.12 431.03,409.20 431.43,409.27 431.82,409.35 432.22,409.42 432.62,409.49 433.01,409.56 433.41,409.62 433.81,409.69 434.21,409.75 434.60,409.81 435.00,409.87 435.40,409.93 435.79,409.98 436.19,410.03 436.59,410.09 436.99,410.14 437.38,410.19 437.78,410.24 438.18,410.28 438.57,410.33 438.97,410.37 439.37,410.42 439.76,410.46 440.16,410.50 440.56,410.54 440.96,410.58 441.35,410.61 441.75,410.65 442.15,410.69 442.54,410.72 442.94,410.75 443.34,410.79 443.74,410.82 444.13,410.85 444.53,410.88 444.93,410.91 445.32,410.94 445.72,410.96 446.12,410.99 446.51,411.02 446.91,411.04 447.31,411.07 447.71,411.09 448.10,411.11 448.50,411.13 448.90,411.16 449.29,411.18 449.69,411.20 450.09,411.22 450.49,411.24 450.88,411.26 451.28,411.27 451.68,411.29 452.07,411.31 452.47,411.33 452.87,411.34 453.26,411.36 453.66,411.37 454.06,411.39 454.46,411.40 454.85,411.42 455.25,411.43 455.65,411.44 456.04,411.46 456.44,411.47 456.84,411.48 457.23,411.49 457.63,411.51 458.03,411.52 458.43,411.53 458.82,411.54 459.22,411.55 459.62,411.56 460.01,411.57 460.41,411.58 460.81,411.59 461.21,411.60 461.60,411.60 462.00,411.61 462.40,411.62 462.79,411.63 463.19,411.64 463.59,411.64 463.98,411.65 464.38,411.66 464.78,411.67 465.18,411.67 465.57,411.68 465.97,411.69" fill="none" stroke="#ff0000" stroke-width="1.55" stroke-linejoin="round"/><polyline points="307.15,290.88 307.55,290.88 307.94,290.89 308.34,290.90 308.74,290.91 309.14,290.92 309.53,290.93 309.93,290.94 310.33,290.95 310.72,290.96 311.12,290.97 311.52,290.99 311.91,291.00 312.31,291.01 312.71,291.02 313.11,291.04 313.50,291.05 313.90,291.07 314.30,291.08 314.69,291.10 315.09,291.11 315.49,291.13 315.89,291.15 316.28,291.17 316.68,291.19 317.08,291.21 317.47,291.23 317.87,291.25 318.27,291.27 318.66,291.29 319.06,291.31 319.46,291.34 319.86,291.36 320.25,291.39 320.65,291.42 321.05,291.44 321.44,291.47 321.84,291.50 322.24,291.53 322.63,291.57 323.03,291.60 323.43,291.63 323.83,291.67 324.22,291.71 324.62,291.75 325.02,291.78 325.41,291.83 325.81,291.87 326.21,291.91 326.61,291.96 327.00,292.01 327.40,292.06 327.80,292.11 328.19,292.16 328.59,292.21 328.99,292.27 329.38,292.33 329.78,292.39 330.18,292.45 330.58,292.52 330.97,292.58 331.37,292.65 331.77,292.73 332.16,292.80 332.56,292.88 332.96,292.96 333.36,293.04 333.75,293.13 334.15,293.22 334.55,293.31 334.94,293.40 335.34,293.50 335.74,293.60 336.13,293.71 336.53,293.82 336.93,293.93 337.33,294.05 337.72,294.17 338.12,294.29 338.52,294.42 338.91,294.56 339.31,294.70 339.71,294.84 340.11,294.99 340.50,295.14 340.90,295.30 341.30,295.46 341.69,295.63 342.09,295.81 342.49,295.99 342.88,296.17 343.28,296.37 343.68,296.57 344.08,296.77 344.47,296.99 344.87,297.21 345.27,297.43 345.66,297.67 346.06,297.91 346.46,298.16 346.85,298.42 347.25,298.68 347.65,298.96 348.05,299.24 348.44,299.53 348.84,299.83 349.24,300.14 349.63,300.46 350.03,300.79 350.43,301.13 350.83,301.48 351.22,301.84 351.62,302.21 352.02,302.59 352.41,302.99 352.81,303.39 353.21,303.81 353.60,304.24 354.00,304.68 354.40,305.13 354.80,305.59 355.19,306.07 355.59,306.56 355.99,307.07 356.38,307.59 356.78,308.12 357.18,308.66 357.58,309.22 357.97,309.79 358.37,310.38 358.77,310.98 359.16,311.60 359.56,312.23 359.96,312.88 360.35,313.54 360.75,314.21 361.15,314.91 361.55,315.61 361.94,316.33 362.34,317.07 362.74,317.82 363.13,318.59 363.53,319.37 363.93,320.17 364.33,320.98 364.72,321.80 365.12,322.64 365.52,323.50 365.91,324.37 366.31,325.25 366.71,326.15 367.10,327.06 367.50,327.98 367.90,328.92 368.30,329.87 368.69,330.83 369.09,331.80 369.49,332.79 369.88,333.78 370.28,334.79 370.68,335.80 371.08,336.83 371.47,337.86 371.87,338.90 372.27,339.95 372.66,341.01 373.06,342.07 373.46,343.14 373.85,344.21 374.25,345.29 374.65,346.38 375.05,347.46 375.44,348.55 375.84,349.64 376.24,350.73 376.63,351.82 377.03,352.91 377.43,354.00 377.82,355.09 378.22,356.17 378.62,357.26 379.02,358.34 379.41,359.41 379.81,360.48 380.21,361.54 380.60,362.60 381.00,363.65 381.40,364.69 381.80,365.72 382.19,366.75 382.59,367.76 382.99,368.77 383.38,369.76 383.78,370.75 384.18,371.72 384.57,372.68 384.97,373.63 385.37,374.57 385.77,375.49 386.16,376.40 386.56,377.30 386.96,378.18 387.35,379.05 387.75,379.91 388.15,380.75 388.55,381.57 388.94,382.38 389.34,383.18 389.74,383.96 390.13,384.73 390.53,385.48 390.93,386.22 391.32,386.94 391.72,387.64 392.12,388.34 392.52,389.01 392.91,389.67 393.31,390.32 393.71,390.95 394.10,391.57 394.50,392.17 394.90,392.76 395.30,393.33 395.69,393.89 396.09,394.43 396.49,394.96 396.88,395.48 397.28,395.99 397.68,396.48 398.07,396.96 398.47,397.42 398.87,397.87 399.27,398.31 399.66,398.74 400.06,399.16 400.46,399.56 400.85,399.96 401.25,400.34 401.65,400.71 402.04,401.07 402.44,401.42 402.84,401.76 403.24,402.09 403.63,402.41 404.03,402.72 404.43,403.02 404.82,403.31 405.22,403.59 405.62,403.87 406.02,404.13 406.41,404.39 406.81,404.64 407.21,404.88 407.60,405.12 408.00,405.34 408.40,405.56 408.79,405.78 409.19,405.98 409.59,406.18 409.99,406.38 410.38,406.56 410.78,406.74 411.18,406.92 411.57,407.09 411.97,407.25 412.37,407.41 412.77,407.56 413.16,407.71 413.56,407.85 413.96,407.99 414.35,408.13 414.75,408.26 415.15,408.38 415.54,408.50 415.94,408.62 416.34,408.73 416.74,408.84 417.13,408.95 417.53,409.05 417.93,409.15 418.32,409.24 418.72,409.33 419.12,409.42 419.52,409.51 419.91,409.59 420.31,409.67 420.71,409.75 421.10,409.82 421.50,409.90 421.90,409.97 422.29,410.03 422.69,410.10 423.09,410.16 423.49,410.22 423.88,410.28 424.28,410.34 424.68,410.39 425.07,410.44 425.47,410.49 425.87,410.54 426.26,410.59 426.66,410.64 427.06,410.68 427.46,410.72 427.85,410.77 428.25,410.80 428.65,410.84 429.04,410.88 429.44,410.92 429.84,410.95 430.24,410.98 430.63,411.02 431.03,411.05 431.43,411.08 431.82,411.11 432.22,411.13 432.62,411.16 433.01,411.19 433.41,411.21 433.81,411.24 434.21,411.26 434.60,411.28 435.00,411.30 435.40,411.32 435.79,411.34 436.19,411.36 436.59,411.38 436.99,411.40 437.38,411.42 437.78,411.44 438.18,411.45 438.57,411.47 438.97,411.48 439.37,411.50 439.76,411.51 440.16,411.53 440.56,411.54 440.96,411.55 441.35,411.56 441.75,411.58 442.15,411.59 442.54,411.60 442.94,411.61 443.34,411.62 443.74,411.63 444.13,411.64 444.53,411.65 444.93,411.66 445.32,411.67 445.72,411.67 446.12,411.68 446.51,411.69 446.91,411.70 447.31,411.70 447.71,411.71 448.10,411.72 448.50,411.72 448.90,411.73 449.29,411.74 449.69,411.74 450.09,411.75 450.49,411.75 450.88,411.76 451.28,411.76 451.68,411.77 452.07,411.77 452.47,411.78 452.87,411.78 453.26,411.79 453.66,411.79 454.06,411.79 454.46,411.80 454.85,411.80 455.25,411.80 455.65,411.81 456.04,411.81 456.44,411.81 456.84,411.82 457.23,411.82 457.63,411.82 458.03,411.83 458.43,411.83 458.82,411.83 459.22,411.83 459.62,411.84 460.01,411.84 460.41,411.84 460.81,411.84 461.21,411.84 461.60,411.85 462.00,411.85 462.40,411.85 462.79,411.85 463.19,411.85 463.59,411.86 463.98,411.86 464.38,411.86 464.78,411.86 465.18,411.86 465.57,411.86 465.97,411.86" fill="none" stroke="#ffb000" stroke-width="1.55" stroke-linejoin="round"/><path d="M378.60,350.20H394.40M378.60,346.30V354.10M394.40,346.30V354.10" stroke="#4a6a22" stroke-width="1.1" fill="none"/><path d="M367.60,348.50H389.05M367.60,344.60V352.40M389.05,344.60V352.40" stroke="#ff0000" stroke-width="1.1" fill="none"/><path d="M370.30,352.00H383.20M370.30,348.10V355.90M383.20,348.10V355.90" stroke="#ffb000" stroke-width="1.1" fill="none"/><circle cx="386.50" cy="350.20" r="2.3" fill="#4a6a22"/><circle cx="378.10" cy="348.50" r="2.3" fill="#ff0000"/><circle cx="375.80" cy="352.00" r="2.3" fill="#ffb000"/><rect x="300.8" y="283.2" width="171.55" height="133.30" fill="none" stroke="#1a1a1a" stroke-width="1.25"/><path d="M307.15,416.5H465.97M307.15,416.5V423.15M346.85,416.5V423.15M386.56,416.5V423.15M426.26,416.5V423.15M465.97,416.5V423.15M300.8,411.90V286.90M300.8,411.90H294.00M300.8,380.65H294.00M300.8,349.40H294.00M300.8,318.15H294.00M300.8,286.90H294.00" stroke="#1a1a1a" stroke-width="1.25" fill="none"/><text x="306.85" y="439.40" text-anchor="middle" font-size="10.7">30</text><text x="346.55" y="439.40" text-anchor="middle" font-size="10.7">40</text><text x="386.26" y="439.40" text-anchor="middle" font-size="10.7">50</text><text x="425.96" y="439.40" text-anchor="middle" font-size="10.7">60</text><text x="465.67" y="439.40" text-anchor="middle" font-size="10.7">70</text><text transform="translate(284.70,411.90) rotate(-90) scale(1.03,1)" text-anchor="middle" font-size="10.7">0.0</text><text transform="translate(284.70,380.65) rotate(-90) scale(1.03,1)" text-anchor="middle" font-size="10.7">0.2</text><text transform="translate(284.70,349.40) rotate(-90) scale(1.03,1)" text-anchor="middle" font-size="10.7">0.4</text><text transform="translate(284.70,318.15) rotate(-90) scale(1.03,1)" text-anchor="middle" font-size="10.7">0.6</text><text transform="translate(284.70,286.90) rotate(-90) scale(1.03,1)" text-anchor="middle" font-size="10.7">0.8</text><text transform="translate(259.05,407.63) rotate(-90) scale(1.0791,1)" font-size="10.0">PSII Quantum Efficiency</text><text transform="translate(361.65,260.80) scale(0.9686,1)" font-size="14" font-style="italic">Vatairea</text><text transform="translate(348.40,464.80) scale(1.0146,1)" font-size="10.3">Temperature <tspan dx="0.5">(</tspan><tspan dx="0.4">°</tspan><tspan dx="0.7">C)</tspan></text></g>
<rect x="389.6" y="39.65" width="5.8" height="5.0" fill="#4a6a22" stroke="#111" stroke-width="0.9"/>
<text transform="translate(403.16,44.85) scale(1.0000,1)" font-size="8.6">Forest</text>
<rect x="389.6" y="49.75" width="5.8" height="5.0" fill="#ff0000" stroke="#111" stroke-width="0.9"/>
<text transform="translate(403.60,54.95) scale(1.0000,1)" font-size="8.6">Typical Cerrado</text>
<rect x="389.6" y="59.85" width="5.8" height="5.0" fill="#ffb000" stroke="#111" stroke-width="0.9"/>
<text transform="translate(403.16,65.05) scale(1.0000,1)" font-size="8.6">Rocky Cerrado</text>
</svg>
</body></html>
